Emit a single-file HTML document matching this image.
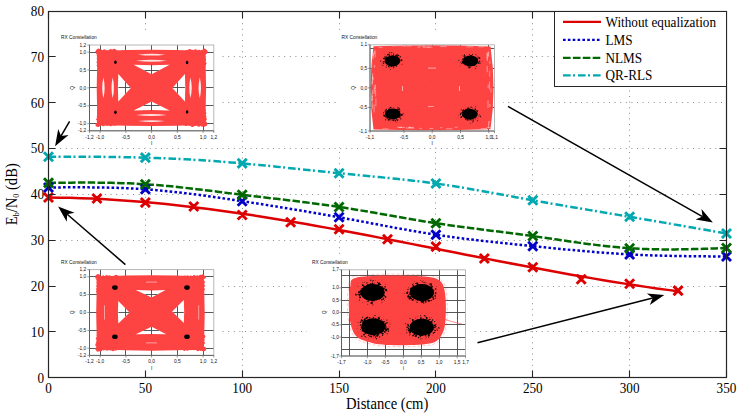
<!DOCTYPE html>
<html><head><meta charset="utf-8"><style>
html,body{margin:0;padding:0;background:#fff;}
body{width:742px;height:418px;overflow:hidden;}
svg{display:block;}
.tk{font-family:"Liberation Serif",serif;font-size:13.2px;fill:#000;}
.al{font-family:"Liberation Serif",serif;font-size:14.6px;fill:#000;}
.lg{font-family:"Liberation Serif",serif;font-size:13.2px;fill:#000;}
.sm{font-family:"Liberation Sans",sans-serif;font-size:4.8px;fill:#111;}
</style></head><body>
<svg width="742" height="418" viewBox="0 0 742 418">
<path d="M145.5,12V377M242.5,12V377M339.5,12V377M435.5,12V377M532.5,12V377M629.5,12V377M49,331.5H726M49,286.5H726M49,240.5H726M49,194.5H726M49,148.5H726M49,102.5H726M49,56.5H726" stroke="#8c8c8c" stroke-width="1" stroke-dasharray="1,4.6" fill="none"/>
<rect x="58" y="31.0" width="163" height="116.3" fill="#fff"/><path d="M100.5,45.0V130.8M125.5,45.0V130.8M151.5,45.0V130.8M177.5,45.0V130.8M203.5,45.0V130.8M89.5,123.5H213.8M89.5,105.5H213.8M89.5,87.5H213.8M89.5,70.5H213.8M89.5,52.5H213.8" stroke="#454545" stroke-width="0.9" fill="none"/><path d="M100.4,50.9 Q151.6,48.6 202.4,50.9 L205.4,53.4 Q206.8,87.9 205.4,122.4 L202.4,124.9 Q151.6,127.2 100.4,124.9 L97.4,122.4 Q96.0,87.9 97.4,53.4 Z" fill="#fe4343"/><rect x="97.4" y="50.4" width="20" height="16" fill="#fe4343"/><g fill="#fe4343"><circle cx="97.4" cy="51.3" r="1.80"/><circle cx="101.1" cy="51.3" r="1.76"/><circle cx="104.4" cy="51.1" r="1.76"/><circle cx="107.8" cy="51.6" r="1.38"/><circle cx="110.7" cy="51.0" r="2.03"/><circle cx="114.2" cy="51.0" r="2.18"/><circle cx="98.5" cy="50.4" r="1.85"/><circle cx="98.0" cy="53.2" r="1.78"/><circle cx="98.2" cy="55.8" r="1.52"/><circle cx="98.4" cy="58.5" r="1.70"/><circle cx="98.4" cy="62.1" r="1.88"/><circle cx="98.5" cy="65.3" r="1.71"/></g><rect x="185.4" y="50.4" width="20" height="16" fill="#fe4343"/><g fill="#fe4343"><circle cx="205.4" cy="51.8" r="2.20"/><circle cx="201.8" cy="51.5" r="1.58"/><circle cx="198.9" cy="51.2" r="1.36"/><circle cx="195.4" cy="51.3" r="2.06"/><circle cx="192.3" cy="51.7" r="2.06"/><circle cx="189.7" cy="51.1" r="2.12"/><circle cx="186.6" cy="51.7" r="1.66"/><circle cx="204.3" cy="50.4" r="2.00"/><circle cx="204.7" cy="53.3" r="1.60"/><circle cx="204.2" cy="57.0" r="1.41"/><circle cx="204.7" cy="59.9" r="1.35"/><circle cx="204.7" cy="63.5" r="1.80"/></g><rect x="97.4" y="109.4" width="20" height="16" fill="#fe4343"/><g fill="#fe4343"><circle cx="97.4" cy="124.7" r="1.96"/><circle cx="100.2" cy="124.3" r="1.40"/><circle cx="103.3" cy="124.7" r="1.54"/><circle cx="107.0" cy="124.2" r="1.57"/><circle cx="110.7" cy="124.7" r="1.65"/><circle cx="114.3" cy="124.3" r="1.39"/><circle cx="98.2" cy="125.4" r="1.53"/><circle cx="98.3" cy="121.9" r="1.57"/><circle cx="98.1" cy="119.2" r="1.82"/><circle cx="98.5" cy="116.3" r="1.63"/><circle cx="98.8" cy="113.2" r="1.74"/><circle cx="98.7" cy="109.9" r="1.46"/></g><rect x="185.4" y="109.4" width="20" height="16" fill="#fe4343"/><g fill="#fe4343"><circle cx="205.4" cy="124.1" r="2.04"/><circle cx="202.5" cy="124.7" r="1.97"/><circle cx="198.8" cy="124.7" r="2.16"/><circle cx="195.1" cy="124.4" r="1.68"/><circle cx="192.4" cy="124.8" r="2.17"/><circle cx="189.5" cy="124.3" r="1.53"/><circle cx="185.9" cy="124.4" r="1.56"/><circle cx="204.2" cy="125.4" r="1.36"/><circle cx="204.4" cy="122.6" r="2.07"/><circle cx="204.6" cy="119.2" r="2.13"/><circle cx="204.8" cy="116.4" r="1.54"/><circle cx="204.8" cy="113.2" r="1.46"/><circle cx="204.3" cy="110.2" r="1.42"/></g><path d="M133.6,64.8 Q151.6,65.6 169.6,64.8 L151.6,74.3 Z" fill="#fff"/><path d="M133.6,110.4 Q151.6,109.6 169.6,110.4 L151.6,101.5 Z" fill="#fff"/><path d="M118.3,74.0 Q117.5,87.9 118.3,101.5 L130.8,87.9 Z" fill="#fff"/><path d="M184.9,74.0 Q185.7,87.9 184.9,101.5 L172.4,87.9 Z" fill="#fff"/><path d="M138.0,54.7 Q151.5,52.9 165.0,54.7 Q151.5,56.5 138.0,54.7Z" fill="#fff" opacity="0.85"/><path d="M136.0,60.7 Q151.5,58.7 167.0,60.7 Q151.5,62.7 136.0,60.7Z" fill="#fff" opacity="0.85"/><path d="M138.0,121.1 Q151.5,119.3 165.0,121.1 Q151.5,122.9 138.0,121.1Z" fill="#fff" opacity="0.85"/><path d="M136.0,115.1 Q151.5,113.1 167.0,115.1 Q151.5,117.1 136.0,115.1Z" fill="#fff" opacity="0.85"/><path d="M103.4,77.5 Q101.0,87.9 103.4,98.3 Q105.8,87.9 103.4,77.5Z" fill="#fff" opacity="0.92"/><path d="M112.7,77.5 Q110.3,87.9 112.7,98.3 Q115.1,87.9 112.7,77.5Z" fill="#fff" opacity="0.92"/><path d="M190.5,77.5 Q188.1,87.9 190.5,98.3 Q192.9,87.9 190.5,77.5Z" fill="#fff" opacity="0.92"/><path d="M199.8,77.5 Q197.4,87.9 199.8,98.3 Q202.2,87.9 199.8,77.5Z" fill="#fff" opacity="0.92"/><clipPath id="c11"><path d="M133.6,64.8 L169.6,64.8 L151.6,74.3 Z"/><path d="M133.6,110.4 L169.6,110.4 L151.6,101.5 Z"/><path d="M118.3,74.0 L118.3,101.5 L130.8,87.9 Z"/><path d="M184.9,74.0 L184.9,101.5 L172.4,87.9 Z"/></clipPath><path d="M100.5,45.0V130.8M125.5,45.0V130.8M151.5,45.0V130.8M177.5,45.0V130.8M203.5,45.0V130.8M89.5,123.5H213.8M89.5,105.5H213.8M89.5,87.5H213.8M89.5,70.5H213.8M89.5,52.5H213.8" stroke="#454545" stroke-width="0.9" fill="none" clip-path="url(#c11)"/><g fill="#000"><ellipse cx="115.4" cy="62.2" rx="1.3" ry="1.7"/><ellipse cx="187.1" cy="62.5" rx="1.3" ry="1.7"/><ellipse cx="115.4" cy="112.2" rx="1.3" ry="1.7"/><ellipse cx="187.1" cy="111.9" rx="1.3" ry="1.7"/></g><rect x="89.5" y="45.0" width="124.3" height="85.8" fill="none" stroke="#b0b0b0" stroke-width="0.9"/><path d="M89.5,45.0V130.8H213.8" stroke="#555" stroke-width="0.9" fill="none"/><path d="M87.3,130.8H89.5M87.3,123.7H89.5M87.3,105.8H89.5M87.3,87.9H89.5M87.3,70.0H89.5M87.3,52.1H89.5M87.3,45.0H89.5M89.5,130.8V133.0M100.1,130.8V133.0M125.9,130.8V133.0M151.6,130.8V133.0M177.3,130.8V133.0M203.1,130.8V133.0M213.8,130.8V133.0" stroke="#707070" stroke-width="0.7" fill="none"/><text x="86.2" y="132.4" text-anchor="end" class="sm">-1,2</text><text x="86.2" y="125.2" text-anchor="end" class="sm">-1,0</text><text x="86.2" y="107.4" text-anchor="end" class="sm">-0,5</text><text x="86.2" y="89.5" text-anchor="end" class="sm">0,0</text><text x="86.2" y="71.6" text-anchor="end" class="sm">0,5</text><text x="86.2" y="53.8" text-anchor="end" class="sm">1,0</text><text x="86.2" y="46.6" text-anchor="end" class="sm">1,2</text><text x="89.5" y="138.6" text-anchor="middle" class="sm">-1,2</text><text x="100.1" y="138.6" text-anchor="middle" class="sm">-1,0</text><text x="125.9" y="138.6" text-anchor="middle" class="sm">-0,5</text><text x="151.6" y="138.6" text-anchor="middle" class="sm">0,0</text><text x="177.3" y="138.6" text-anchor="middle" class="sm">0,5</text><text x="203.1" y="138.6" text-anchor="middle" class="sm">1,0</text><text x="213.8" y="138.6" text-anchor="middle" class="sm">1,2</text><text class="sm" x="61.0" y="38.8">RX Constellation</text><text class="sm" transform="translate(74.4,87.9) rotate(-90)" text-anchor="middle">Q</text><text class="sm" x="151.6" y="145.1" text-anchor="middle">I</text><rect x="58" y="256.0" width="163" height="116.0" fill="#fff"/><path d="M100.5,269.6V355.4M125.5,269.6V355.4M151.5,269.6V355.4M177.5,269.6V355.4M203.5,269.6V355.4M89.5,348.5H213.8M89.5,330.5H213.8M89.5,312.5H213.8M89.5,294.5H213.8M89.5,276.5H213.8" stroke="#454545" stroke-width="0.9" fill="none"/><path d="M99.9,276.5 Q151.6,274.2 201.0,276.5 L204.0,279.0 Q205.4,312.5 204.0,347.0 L201.0,349.5 Q151.6,351.8 99.9,349.5 L96.9,347.0 Q95.5,312.5 96.9,279.0 Z" fill="#fe4343"/><rect x="96.9" y="276.0" width="20" height="16" fill="#fe4343"/><g fill="#fe4343"><circle cx="96.9" cy="276.8" r="1.92"/><circle cx="100.3" cy="277.3" r="1.47"/><circle cx="103.2" cy="276.8" r="1.50"/><circle cx="106.7" cy="276.7" r="1.78"/><circle cx="109.5" cy="276.9" r="1.69"/><circle cx="113.1" cy="277.1" r="1.31"/><circle cx="116.1" cy="276.8" r="2.08"/><circle cx="98.1" cy="276.0" r="2.04"/><circle cx="98.3" cy="279.5" r="2.01"/><circle cx="98.2" cy="282.4" r="1.74"/><circle cx="98.0" cy="285.9" r="1.69"/><circle cx="97.8" cy="289.0" r="1.58"/><circle cx="98.2" cy="291.7" r="2.02"/></g><rect x="184.0" y="276.0" width="20" height="16" fill="#fe4343"/><g fill="#fe4343"><circle cx="204.0" cy="277.2" r="1.80"/><circle cx="200.5" cy="276.7" r="1.91"/><circle cx="197.4" cy="276.8" r="1.48"/><circle cx="194.1" cy="276.8" r="1.71"/><circle cx="190.8" cy="277.0" r="1.42"/><circle cx="187.6" cy="276.8" r="1.51"/><circle cx="184.8" cy="276.9" r="1.37"/><circle cx="202.6" cy="276.0" r="1.65"/><circle cx="202.7" cy="279.5" r="1.34"/><circle cx="202.8" cy="282.3" r="2.05"/><circle cx="203.3" cy="285.6" r="1.67"/><circle cx="202.7" cy="289.3" r="2.02"/></g><rect x="96.9" y="334.0" width="20" height="16" fill="#fe4343"/><g fill="#fe4343"><circle cx="96.9" cy="348.8" r="1.64"/><circle cx="100.4" cy="349.3" r="2.17"/><circle cx="103.7" cy="348.9" r="1.49"/><circle cx="107.0" cy="349.0" r="1.83"/><circle cx="110.1" cy="348.9" r="1.61"/><circle cx="113.0" cy="349.3" r="1.92"/><circle cx="115.7" cy="349.3" r="1.36"/><circle cx="97.9" cy="350.0" r="1.79"/><circle cx="97.9" cy="347.4" r="1.61"/><circle cx="97.5" cy="344.7" r="2.20"/><circle cx="97.7" cy="341.9" r="1.54"/><circle cx="97.6" cy="338.6" r="1.72"/><circle cx="98.2" cy="335.6" r="1.31"/></g><rect x="184.0" y="334.0" width="20" height="16" fill="#fe4343"/><g fill="#fe4343"><circle cx="204.0" cy="349.0" r="2.17"/><circle cx="200.8" cy="349.1" r="1.90"/><circle cx="197.8" cy="349.4" r="1.75"/><circle cx="194.1" cy="348.8" r="1.53"/><circle cx="190.7" cy="348.8" r="1.53"/><circle cx="187.4" cy="349.2" r="1.52"/><circle cx="184.5" cy="349.3" r="1.62"/><circle cx="203.1" cy="350.0" r="1.38"/><circle cx="202.9" cy="346.5" r="1.30"/><circle cx="203.2" cy="343.0" r="1.73"/><circle cx="203.1" cy="339.7" r="1.56"/><circle cx="203.3" cy="336.6" r="2.08"/></g><path d="M135.7,290.0 Q151.6,290.8 165.5,290.0 L151.6,297.5 Z" fill="#fff"/><path d="M135.7,334.3 Q151.6,333.5 166.2,334.3 L151.6,326.8 Z" fill="#fff"/><path d="M118.3,301.1 Q117.5,312.5 118.3,323.6 L129.6,312.5 Z" fill="#fff"/><path d="M183.8,300.0 Q184.6,312.5 183.8,322.9 L172.2,311.4 Z" fill="#fff"/><path d="M104.5,305.4 V319.6" stroke="#fff" stroke-width="0.7" fill="none" opacity="0.7"/><path d="M198.7,305.4 V319.6" stroke="#fff" stroke-width="0.7" fill="none" opacity="0.7"/><path d="M146,282.1 H157" stroke="#fff" stroke-width="0.7" fill="none" opacity="0.7"/><path d="M146,342.9 H157" stroke="#fff" stroke-width="0.7" fill="none" opacity="0.7"/><clipPath id="c13"><path d="M135.7,290.0 L165.5,290.0 L151.6,297.5 Z"/><path d="M135.7,334.3 L166.2,334.3 L151.6,326.8 Z"/><path d="M118.3,301.1 L118.3,323.6 L129.6,312.5 Z"/><path d="M183.8,300.0 L183.8,322.9 L172.2,311.4 Z"/></clipPath><path d="M100.5,269.6V355.4M125.5,269.6V355.4M151.5,269.6V355.4M177.5,269.6V355.4M203.5,269.6V355.4M89.5,348.5H213.8M89.5,330.5H213.8M89.5,312.5H213.8M89.5,294.5H213.8M89.5,276.5H213.8" stroke="#454545" stroke-width="0.9" fill="none" clip-path="url(#c13)"/><g fill="#000"><ellipse cx="114.9" cy="287.5" rx="2.8" ry="2.3"/><ellipse cx="187.0" cy="287.5" rx="2.8" ry="2.3"/><ellipse cx="114.9" cy="336.8" rx="2.8" ry="2.3"/><ellipse cx="187.0" cy="336.8" rx="2.8" ry="2.3"/></g><rect x="89.5" y="269.6" width="124.3" height="85.8" fill="none" stroke="#b0b0b0" stroke-width="0.9"/><path d="M89.5,269.6V355.4H213.8" stroke="#555" stroke-width="0.9" fill="none"/><path d="M87.3,355.4H89.5M87.3,348.2H89.5M87.3,330.4H89.5M87.3,312.5H89.5M87.3,294.6H89.5M87.3,276.8H89.5M87.3,269.6H89.5M89.5,355.4V357.6M100.1,355.4V357.6M125.9,355.4V357.6M151.6,355.4V357.6M177.3,355.4V357.6M203.1,355.4V357.6M213.8,355.4V357.6" stroke="#707070" stroke-width="0.7" fill="none"/><text x="86.2" y="357.0" text-anchor="end" class="sm">-1,2</text><text x="86.2" y="349.9" text-anchor="end" class="sm">-1,0</text><text x="86.2" y="332.0" text-anchor="end" class="sm">-0,5</text><text x="86.2" y="314.1" text-anchor="end" class="sm">0,0</text><text x="86.2" y="296.2" text-anchor="end" class="sm">0,5</text><text x="86.2" y="278.4" text-anchor="end" class="sm">1,0</text><text x="86.2" y="271.2" text-anchor="end" class="sm">1,2</text><text x="89.5" y="363.2" text-anchor="middle" class="sm">-1,2</text><text x="100.1" y="363.2" text-anchor="middle" class="sm">-1,0</text><text x="125.9" y="363.2" text-anchor="middle" class="sm">-0,5</text><text x="151.6" y="363.2" text-anchor="middle" class="sm">0,0</text><text x="177.3" y="363.2" text-anchor="middle" class="sm">0,5</text><text x="203.1" y="363.2" text-anchor="middle" class="sm">1,0</text><text x="213.8" y="363.2" text-anchor="middle" class="sm">1,2</text><text class="sm" x="61.0" y="263.8">RX Constellation</text><text class="sm" transform="translate(74.4,312.5) rotate(-90)" text-anchor="middle">Q</text><text class="sm" x="151.6" y="369.8" text-anchor="middle">I</text><rect x="337" y="31" width="166" height="116" fill="#fff"/><path d="M403.5,44.8V131.0M432.5,44.8V131.0M460.5,44.8V131.0M488.5,44.8V131.0M370.0,107.5H494.5M370.0,87.5H494.5M370.0,68.5H494.5M370.0,48.5H494.5" stroke="#454545" stroke-width="0.9" fill="none"/><path d="M373.5,46.2 Q432,44.4 490.5,46.4 Q496.5,88 490.5,129.2 Q432,131.0 373.5,129.5 Q367.5,88 373.5,46.2 Z" fill="#fe4343"/><g fill="#fe4343"><circle cx="396.2" cy="64.0" r="1.73"/><circle cx="478.7" cy="75.8" r="1.87"/><circle cx="470.9" cy="92.9" r="1.90"/><circle cx="399.4" cy="57.4" r="0.97"/><circle cx="403.7" cy="91.8" r="1.45"/><circle cx="426.1" cy="85.9" r="1.08"/><circle cx="421.8" cy="125.6" r="1.70"/><circle cx="459.9" cy="118.1" r="1.00"/><circle cx="416.7" cy="78.4" r="0.84"/><circle cx="450.3" cy="74.8" r="1.08"/><circle cx="485.8" cy="83.9" r="1.16"/><circle cx="473.3" cy="81.0" r="1.60"/><circle cx="447.8" cy="125.2" r="1.61"/><circle cx="485.6" cy="80.1" r="1.17"/><circle cx="416.8" cy="100.5" r="1.00"/><circle cx="461.2" cy="96.7" r="1.52"/><circle cx="479.7" cy="88.7" r="1.22"/><circle cx="412.7" cy="121.7" r="1.38"/><circle cx="415.8" cy="113.4" r="1.63"/><circle cx="485.6" cy="101.8" r="0.87"/><circle cx="431.9" cy="51.2" r="0.86"/><circle cx="440.2" cy="64.5" r="1.49"/><circle cx="444.5" cy="88.5" r="1.04"/><circle cx="456.7" cy="83.1" r="1.69"/><circle cx="482.9" cy="71.4" r="1.23"/><circle cx="406.3" cy="110.9" r="1.71"/><circle cx="471.0" cy="109.7" r="1.73"/><circle cx="439.1" cy="82.1" r="1.90"/><circle cx="460.5" cy="100.7" r="1.52"/><circle cx="461.4" cy="76.5" r="1.88"/><circle cx="400.9" cy="81.7" r="1.19"/><circle cx="439.1" cy="98.0" r="1.01"/><circle cx="410.4" cy="50.9" r="1.02"/><circle cx="487.0" cy="99.9" r="1.44"/><circle cx="408.5" cy="98.9" r="1.51"/><circle cx="450.1" cy="64.0" r="1.31"/><circle cx="484.1" cy="101.1" r="0.88"/><circle cx="378.9" cy="89.5" r="0.99"/><circle cx="425.5" cy="49.3" r="1.55"/><circle cx="436.5" cy="75.3" r="1.33"/><circle cx="463.5" cy="117.6" r="1.17"/><circle cx="376.5" cy="99.6" r="1.79"/><circle cx="470.6" cy="84.0" r="1.39"/><circle cx="426.8" cy="60.5" r="1.17"/><circle cx="413.7" cy="96.7" r="1.26"/><circle cx="488.7" cy="85.1" r="1.54"/><circle cx="398.3" cy="88.1" r="0.94"/><circle cx="424.8" cy="123.0" r="1.81"/><circle cx="398.9" cy="115.1" r="1.71"/><circle cx="415.9" cy="57.4" r="1.69"/><circle cx="400.2" cy="113.4" r="1.15"/><circle cx="381.3" cy="91.2" r="1.61"/><circle cx="416.7" cy="125.4" r="1.57"/><circle cx="426.5" cy="85.9" r="1.45"/><circle cx="431.8" cy="120.8" r="1.36"/><circle cx="451.0" cy="58.6" r="1.73"/><circle cx="405.1" cy="114.2" r="1.67"/><circle cx="448.2" cy="67.1" r="1.78"/><circle cx="464.9" cy="63.8" r="1.93"/><circle cx="472.2" cy="80.2" r="1.43"/><circle cx="458.7" cy="119.6" r="1.89"/><circle cx="384.3" cy="92.7" r="1.65"/><circle cx="429.0" cy="71.5" r="1.71"/><circle cx="390.7" cy="72.1" r="1.31"/><circle cx="395.6" cy="63.3" r="1.55"/><circle cx="430.2" cy="81.5" r="1.02"/><circle cx="388.4" cy="99.7" r="1.09"/><circle cx="414.0" cy="58.8" r="0.89"/><circle cx="404.9" cy="91.4" r="0.90"/><circle cx="453.8" cy="104.8" r="1.04"/><circle cx="435.8" cy="95.1" r="1.36"/><circle cx="398.9" cy="109.4" r="1.50"/><circle cx="436.2" cy="125.9" r="0.84"/><circle cx="406.6" cy="99.8" r="1.30"/><circle cx="471.7" cy="112.1" r="1.26"/><circle cx="476.3" cy="95.0" r="0.95"/><circle cx="399.6" cy="81.5" r="1.49"/><circle cx="482.7" cy="78.6" r="1.31"/><circle cx="449.9" cy="58.4" r="1.25"/><circle cx="460.1" cy="112.1" r="1.47"/><circle cx="487.0" cy="77.5" r="1.52"/><circle cx="399.5" cy="118.4" r="0.84"/><circle cx="466.0" cy="106.9" r="1.53"/><circle cx="461.2" cy="112.5" r="1.84"/><circle cx="404.9" cy="106.5" r="1.09"/><circle cx="417.3" cy="126.1" r="1.27"/><circle cx="485.8" cy="78.8" r="1.51"/><circle cx="428.5" cy="127.5" r="1.40"/><circle cx="403.7" cy="99.4" r="1.94"/><circle cx="401.0" cy="89.1" r="1.37"/><circle cx="465.0" cy="109.9" r="1.34"/><circle cx="418.3" cy="122.1" r="1.77"/><circle cx="474.2" cy="90.4" r="1.15"/><circle cx="479.1" cy="74.0" r="1.12"/><circle cx="429.5" cy="103.6" r="1.95"/><circle cx="419.9" cy="118.0" r="1.37"/><circle cx="404.3" cy="63.5" r="1.67"/><circle cx="469.3" cy="111.6" r="1.18"/><circle cx="399.1" cy="83.2" r="1.17"/><circle cx="393.2" cy="82.9" r="1.24"/><circle cx="430.6" cy="57.3" r="0.88"/><circle cx="431.4" cy="115.0" r="1.87"/><circle cx="464.7" cy="68.9" r="0.86"/><circle cx="438.7" cy="62.3" r="1.48"/><circle cx="420.0" cy="57.3" r="1.38"/><circle cx="462.6" cy="74.9" r="1.28"/><circle cx="447.4" cy="73.8" r="1.17"/><circle cx="439.2" cy="79.0" r="1.78"/><circle cx="419.0" cy="63.3" r="1.16"/><circle cx="442.6" cy="50.5" r="1.00"/><circle cx="389.4" cy="92.0" r="1.40"/><circle cx="421.0" cy="101.7" r="1.50"/><circle cx="437.7" cy="78.3" r="1.10"/><circle cx="453.9" cy="55.8" r="1.58"/><circle cx="480.7" cy="93.4" r="1.94"/><circle cx="480.6" cy="87.6" r="0.89"/><circle cx="446.8" cy="72.3" r="1.56"/><circle cx="478.8" cy="78.0" r="0.99"/><circle cx="417.3" cy="125.0" r="1.01"/><circle cx="403.3" cy="71.5" r="1.02"/></g><path d="M374.3,51.3v2.8M373.2,53.5v2.4M374.1,104.4v8.1M372.1,80.8v4.2M374.2,85.2v8.6M373.2,52.2v6.9M372.2,96.0v5.5M375.6,90.2v6.3M372.7,89.9v3.8M374.9,87.3v2.9M372.6,76.2v7.2M372.3,102.2v6.6M371.9,98.8v2.6M372.1,93.1v3.7M375.4,84.5v4.3M375.1,50.2v7.1M371.7,59.5v8.7M374.6,65.0v2.8M375.9,98.5v7.7M372.1,95.5v4.5M372.6,73.3v6.3M373.1,77.3v3.0M466.4,46.8h6.8M422.7,47.1h5.1M440.2,46.6h6.4M418.5,45.8h2.2M397.3,45.7h7.3M427.9,47.0h2.0M426.7,47.2h5.7M422.2,46.4h2.6M392.0,45.9h4.2M417.4,47.2h2.9M402.9,46.1h3.0M406.6,46.0h4.9M378.5,47.3h4.2M478.2,46.8h6.0M488.9,121.7v2.7M489.7,70.7v6.0M489.9,60.7v3.2M487.1,66.0v2.5M488.6,123.9v4.2M488.2,84.5v3.7M489.9,104.0v3.0M488.0,100.4v7.6M489.6,81.6v7.9M487.0,52.7v6.7M488.6,51.5v5.3M491.0,88.5v4.1M487.4,53.6v7.4M489.0,121.0v2.3M488.0,51.9v4.4M487.2,67.9v4.4M408.1,127.3h2.2M486.7,127.6h4.5M419.5,128.4h2.4M409.0,127.4h4.7M480.7,128.5h6.3M397.3,127.2h4.7M429.4,128.5h3.9M445.8,128.8h6.6M408.3,128.2h6.1M398.4,127.5h3.6M382.3,128.9h6.1M408.9,127.5h2.4M400.9,127.4h4.1M440.1,127.7h2.3M454.7,127.3h3.0M405.8,128.0h2.5" stroke="#fbd0d0" stroke-width="0.7" opacity="0.8" fill="none"/><rect x="428" y="67.6" width="8" height="1.0" fill="#fff" opacity="0.55"/><rect x="428" y="106" width="6" height="0.9" fill="#fff" opacity="0.55"/><rect x="402" y="86" width="1.0" height="5" fill="#fff" opacity="0.55"/><rect x="459" y="86" width="1.0" height="5" fill="#fff" opacity="0.55"/><ellipse cx="392.5" cy="60.9" rx="7.8" ry="5.4" fill="#000"/><g fill="#000"><circle cx="387.6" cy="62.8" r="0.72"/><circle cx="383.6" cy="58.5" r="0.67"/><circle cx="393.0" cy="55.5" r="0.57"/><circle cx="395.8" cy="55.6" r="0.82"/><circle cx="391.3" cy="54.9" r="0.49"/><circle cx="394.9" cy="56.8" r="0.42"/><circle cx="396.3" cy="62.1" r="0.49"/><circle cx="390.1" cy="57.5" r="0.39"/><circle cx="393.1" cy="55.5" r="0.37"/><circle cx="395.9" cy="61.7" r="0.53"/><circle cx="398.7" cy="55.5" r="0.65"/><circle cx="393.3" cy="65.6" r="0.53"/><circle cx="392.0" cy="61.6" r="0.64"/><circle cx="396.5" cy="55.5" r="0.41"/><circle cx="388.4" cy="60.3" r="0.70"/><circle cx="383.4" cy="63.2" r="0.74"/><circle cx="396.6" cy="63.6" r="0.80"/><circle cx="386.1" cy="62.1" r="0.57"/><circle cx="393.6" cy="54.0" r="0.62"/><circle cx="400.1" cy="59.8" r="0.41"/><circle cx="395.0" cy="56.6" r="0.39"/><circle cx="394.3" cy="60.7" r="0.64"/><circle cx="383.2" cy="61.7" r="0.55"/><circle cx="393.6" cy="64.6" r="0.46"/><circle cx="387.0" cy="59.3" r="0.72"/><circle cx="392.8" cy="65.2" r="0.48"/><circle cx="401.6" cy="60.2" r="0.77"/><circle cx="387.8" cy="57.8" r="0.43"/><circle cx="395.9" cy="56.5" r="0.38"/><circle cx="394.0" cy="62.9" r="0.70"/><circle cx="396.1" cy="59.0" r="0.74"/><circle cx="388.8" cy="66.2" r="0.77"/><circle cx="386.1" cy="56.4" r="0.54"/><circle cx="399.6" cy="61.2" r="0.64"/><circle cx="395.0" cy="65.0" r="0.51"/><circle cx="398.0" cy="61.6" r="0.54"/><circle cx="384.2" cy="61.8" r="0.55"/><circle cx="401.5" cy="60.2" r="0.80"/><circle cx="389.6" cy="55.4" r="0.62"/><circle cx="394.3" cy="56.8" r="0.64"/><circle cx="389.4" cy="56.2" r="0.50"/><circle cx="395.1" cy="61.9" r="0.53"/><circle cx="384.9" cy="57.9" r="0.70"/><circle cx="389.1" cy="67.4" r="0.49"/><circle cx="391.9" cy="59.0" r="0.72"/><circle cx="387.8" cy="54.7" r="0.79"/><circle cx="389.0" cy="54.8" r="0.71"/><circle cx="389.0" cy="58.8" r="0.61"/><circle cx="396.4" cy="58.8" r="0.83"/><circle cx="386.5" cy="59.7" r="0.36"/><circle cx="389.2" cy="62.8" r="0.67"/><circle cx="400.2" cy="56.8" r="0.65"/><circle cx="390.0" cy="62.5" r="0.69"/><circle cx="384.5" cy="58.9" r="0.54"/><circle cx="396.0" cy="58.7" r="0.51"/><circle cx="391.6" cy="66.5" r="0.79"/><circle cx="396.4" cy="65.9" r="0.73"/><circle cx="392.9" cy="62.7" r="0.63"/><circle cx="397.0" cy="55.0" r="0.71"/><circle cx="386.8" cy="63.2" r="0.61"/><circle cx="397.0" cy="58.7" r="0.49"/><circle cx="384.7" cy="56.5" r="0.45"/><circle cx="395.8" cy="61.4" r="0.63"/><circle cx="389.1" cy="59.0" r="0.45"/><circle cx="385.8" cy="57.7" r="0.69"/><circle cx="392.2" cy="59.1" r="0.59"/><circle cx="397.5" cy="54.8" r="0.51"/><circle cx="397.2" cy="56.2" r="0.80"/><circle cx="393.6" cy="66.9" r="0.76"/><circle cx="389.4" cy="61.2" r="0.45"/></g><g fill="#000"><circle cx="394.5" cy="63.2" r="0.29"/><circle cx="389.6" cy="59.0" r="0.48"/><circle cx="391.6" cy="52.8" r="0.50"/><circle cx="389.8" cy="52.5" r="0.55"/><circle cx="384.2" cy="54.6" r="0.27"/><circle cx="394.9" cy="62.3" r="0.31"/><circle cx="386.8" cy="65.2" r="0.46"/><circle cx="392.3" cy="58.3" r="0.37"/><circle cx="385.4" cy="59.4" r="0.28"/><circle cx="386.5" cy="57.7" r="0.46"/><circle cx="380.7" cy="61.1" r="0.54"/><circle cx="401.9" cy="64.3" r="0.47"/><circle cx="391.3" cy="63.8" r="0.39"/><circle cx="386.2" cy="67.0" r="0.53"/><circle cx="387.7" cy="64.2" r="0.40"/><circle cx="389.0" cy="53.3" r="0.42"/><circle cx="390.5" cy="65.9" r="0.51"/><circle cx="389.8" cy="60.7" r="0.37"/><circle cx="393.2" cy="68.2" r="0.26"/><circle cx="392.0" cy="63.7" r="0.39"/><circle cx="401.3" cy="60.3" r="0.36"/><circle cx="395.8" cy="59.8" r="0.35"/><circle cx="392.8" cy="60.3" r="0.49"/><circle cx="391.5" cy="61.8" r="0.32"/><circle cx="385.3" cy="62.3" r="0.41"/><circle cx="397.8" cy="62.3" r="0.55"/><circle cx="384.8" cy="63.1" r="0.27"/><circle cx="390.4" cy="69.5" r="0.46"/><circle cx="389.7" cy="60.8" r="0.37"/><circle cx="393.9" cy="55.1" r="0.43"/><circle cx="400.4" cy="56.7" r="0.44"/><circle cx="394.3" cy="61.2" r="0.49"/><circle cx="382.9" cy="65.3" r="0.50"/><circle cx="398.9" cy="58.1" r="0.56"/><circle cx="392.9" cy="52.4" r="0.29"/></g><ellipse cx="470.5" cy="60.9" rx="7.8" ry="5.4" fill="#000"/><g fill="#000"><circle cx="471.8" cy="56.3" r="0.83"/><circle cx="475.2" cy="60.8" r="0.56"/><circle cx="469.6" cy="65.8" r="0.50"/><circle cx="468.7" cy="58.7" r="0.44"/><circle cx="467.9" cy="61.4" r="0.54"/><circle cx="478.0" cy="56.8" r="0.45"/><circle cx="479.5" cy="61.7" r="0.82"/><circle cx="467.5" cy="59.4" r="0.47"/><circle cx="479.0" cy="57.5" r="0.37"/><circle cx="473.1" cy="65.2" r="0.49"/><circle cx="470.6" cy="56.5" r="0.73"/><circle cx="474.7" cy="65.1" r="0.83"/><circle cx="469.6" cy="58.8" r="0.41"/><circle cx="466.7" cy="57.4" r="0.54"/><circle cx="462.9" cy="61.7" r="0.82"/><circle cx="470.9" cy="66.3" r="0.49"/><circle cx="462.3" cy="59.2" r="0.42"/><circle cx="462.2" cy="61.6" r="0.36"/><circle cx="471.4" cy="56.3" r="0.60"/><circle cx="463.7" cy="56.8" r="0.39"/><circle cx="468.5" cy="60.9" r="0.55"/><circle cx="469.7" cy="61.8" r="0.50"/><circle cx="462.8" cy="62.7" r="0.80"/><circle cx="465.5" cy="64.7" r="0.70"/><circle cx="479.5" cy="58.2" r="0.83"/><circle cx="469.2" cy="63.7" r="0.81"/><circle cx="476.4" cy="63.2" r="0.71"/><circle cx="464.4" cy="60.1" r="0.80"/><circle cx="468.2" cy="66.0" r="0.76"/><circle cx="474.3" cy="64.2" r="0.60"/><circle cx="466.3" cy="59.6" r="0.58"/><circle cx="473.3" cy="61.7" r="0.52"/><circle cx="476.6" cy="66.5" r="0.49"/><circle cx="469.1" cy="67.2" r="0.72"/><circle cx="469.8" cy="67.4" r="0.66"/><circle cx="464.4" cy="64.6" r="0.48"/><circle cx="469.7" cy="67.6" r="0.57"/><circle cx="473.9" cy="59.1" r="0.43"/><circle cx="478.6" cy="62.9" r="0.63"/><circle cx="472.6" cy="61.0" r="0.76"/><circle cx="461.2" cy="61.1" r="0.38"/><circle cx="467.6" cy="59.6" r="0.71"/><circle cx="464.5" cy="57.3" r="0.47"/><circle cx="473.7" cy="60.1" r="0.39"/><circle cx="469.3" cy="58.9" r="0.39"/><circle cx="462.7" cy="62.3" r="0.79"/><circle cx="470.0" cy="59.0" r="0.67"/><circle cx="472.4" cy="58.8" r="0.72"/><circle cx="470.2" cy="64.8" r="0.36"/><circle cx="470.9" cy="55.7" r="0.79"/><circle cx="466.6" cy="61.5" r="0.46"/><circle cx="469.7" cy="67.9" r="0.46"/><circle cx="475.6" cy="63.2" r="0.40"/><circle cx="463.5" cy="63.5" r="0.67"/><circle cx="472.2" cy="63.3" r="0.60"/><circle cx="467.9" cy="56.5" r="0.64"/><circle cx="473.7" cy="59.5" r="0.49"/><circle cx="463.2" cy="61.1" r="0.79"/><circle cx="462.8" cy="58.9" r="0.56"/><circle cx="472.5" cy="54.5" r="0.50"/><circle cx="474.5" cy="63.2" r="0.53"/><circle cx="474.5" cy="58.5" r="0.66"/><circle cx="464.3" cy="55.5" r="0.42"/><circle cx="471.2" cy="56.8" r="0.41"/><circle cx="464.3" cy="56.0" r="0.64"/><circle cx="479.9" cy="63.1" r="0.54"/><circle cx="464.9" cy="56.3" r="0.49"/><circle cx="465.7" cy="63.1" r="0.41"/><circle cx="478.3" cy="63.3" r="0.56"/><circle cx="472.2" cy="59.6" r="0.50"/></g><g fill="#000"><circle cx="475.5" cy="68.8" r="0.49"/><circle cx="477.3" cy="57.0" r="0.27"/><circle cx="465.6" cy="63.1" r="0.25"/><circle cx="464.6" cy="59.0" r="0.27"/><circle cx="458.9" cy="60.3" r="0.54"/><circle cx="466.7" cy="61.5" r="0.49"/><circle cx="477.1" cy="65.3" r="0.27"/><circle cx="479.3" cy="60.4" r="0.38"/><circle cx="469.3" cy="67.5" r="0.55"/><circle cx="465.6" cy="62.7" r="0.40"/><circle cx="477.0" cy="58.2" r="0.44"/><circle cx="476.5" cy="58.4" r="0.50"/><circle cx="466.1" cy="60.3" r="0.26"/><circle cx="478.1" cy="58.6" r="0.38"/><circle cx="478.4" cy="57.5" r="0.40"/><circle cx="468.3" cy="68.5" r="0.32"/><circle cx="460.2" cy="62.3" r="0.43"/><circle cx="474.1" cy="63.9" r="0.46"/><circle cx="470.0" cy="58.0" r="0.56"/><circle cx="473.8" cy="63.6" r="0.27"/><circle cx="461.6" cy="63.2" r="0.51"/><circle cx="475.7" cy="67.3" r="0.27"/><circle cx="465.2" cy="58.7" r="0.35"/><circle cx="480.1" cy="63.4" r="0.28"/><circle cx="471.1" cy="55.7" r="0.43"/><circle cx="465.1" cy="56.1" r="0.52"/><circle cx="476.1" cy="58.6" r="0.35"/><circle cx="473.6" cy="58.6" r="0.37"/><circle cx="460.3" cy="65.4" r="0.28"/><circle cx="464.6" cy="54.4" r="0.47"/><circle cx="482.2" cy="61.0" r="0.34"/><circle cx="476.4" cy="55.1" r="0.37"/><circle cx="475.7" cy="54.6" r="0.35"/><circle cx="469.5" cy="54.5" r="0.47"/><circle cx="462.4" cy="55.6" r="0.29"/></g><ellipse cx="392.7" cy="114.0" rx="7.8" ry="5.4" fill="#000"/><g fill="#000"><circle cx="392.4" cy="114.0" r="0.74"/><circle cx="393.9" cy="107.5" r="0.38"/><circle cx="386.0" cy="112.9" r="0.42"/><circle cx="395.6" cy="120.8" r="0.77"/><circle cx="393.4" cy="120.5" r="0.67"/><circle cx="386.7" cy="117.8" r="0.47"/><circle cx="392.6" cy="114.7" r="0.68"/><circle cx="385.2" cy="111.0" r="0.60"/><circle cx="387.6" cy="115.6" r="0.71"/><circle cx="387.3" cy="118.0" r="0.72"/><circle cx="384.9" cy="116.0" r="0.39"/><circle cx="392.1" cy="120.6" r="0.43"/><circle cx="393.8" cy="114.3" r="0.73"/><circle cx="398.0" cy="117.0" r="0.57"/><circle cx="395.0" cy="109.3" r="0.61"/><circle cx="401.5" cy="115.0" r="0.73"/><circle cx="386.2" cy="109.4" r="0.65"/><circle cx="390.7" cy="107.5" r="0.66"/><circle cx="402.0" cy="114.9" r="0.83"/><circle cx="393.5" cy="115.8" r="0.52"/><circle cx="397.6" cy="116.6" r="0.40"/><circle cx="392.8" cy="114.4" r="0.57"/><circle cx="390.1" cy="119.8" r="0.55"/><circle cx="397.6" cy="120.1" r="0.79"/><circle cx="391.0" cy="110.9" r="0.55"/><circle cx="386.6" cy="115.4" r="0.37"/><circle cx="384.3" cy="115.7" r="0.69"/><circle cx="398.0" cy="109.4" r="0.73"/><circle cx="399.3" cy="109.0" r="0.74"/><circle cx="385.7" cy="116.9" r="0.68"/><circle cx="399.0" cy="109.9" r="0.57"/><circle cx="394.8" cy="117.8" r="0.48"/><circle cx="389.1" cy="108.3" r="0.45"/><circle cx="383.7" cy="112.6" r="0.54"/><circle cx="399.1" cy="117.1" r="0.53"/><circle cx="396.0" cy="117.0" r="0.36"/><circle cx="396.6" cy="117.8" r="0.41"/><circle cx="400.1" cy="114.2" r="0.82"/><circle cx="395.6" cy="110.4" r="0.80"/><circle cx="396.1" cy="115.3" r="0.36"/><circle cx="399.9" cy="116.0" r="0.72"/><circle cx="383.8" cy="114.9" r="0.58"/><circle cx="399.5" cy="111.3" r="0.62"/><circle cx="395.8" cy="118.1" r="0.57"/><circle cx="394.8" cy="110.9" r="0.50"/><circle cx="393.8" cy="112.2" r="0.62"/><circle cx="394.2" cy="119.8" r="0.65"/><circle cx="399.8" cy="117.4" r="0.56"/><circle cx="388.7" cy="120.0" r="0.73"/><circle cx="389.7" cy="119.5" r="0.42"/><circle cx="389.8" cy="113.8" r="0.67"/><circle cx="399.6" cy="111.1" r="0.38"/><circle cx="385.9" cy="113.6" r="0.57"/><circle cx="395.8" cy="117.1" r="0.58"/><circle cx="400.1" cy="116.6" r="0.48"/><circle cx="391.9" cy="116.1" r="0.51"/><circle cx="397.6" cy="112.4" r="0.41"/><circle cx="387.2" cy="119.8" r="0.40"/><circle cx="390.2" cy="116.8" r="0.69"/><circle cx="389.7" cy="114.5" r="0.77"/><circle cx="388.8" cy="119.3" r="0.58"/><circle cx="394.4" cy="112.7" r="0.47"/><circle cx="391.6" cy="117.6" r="0.75"/><circle cx="386.8" cy="113.9" r="0.60"/><circle cx="397.0" cy="109.5" r="0.58"/><circle cx="388.4" cy="109.3" r="0.55"/><circle cx="389.5" cy="115.2" r="0.57"/><circle cx="396.7" cy="111.3" r="0.54"/><circle cx="386.6" cy="110.7" r="0.44"/><circle cx="384.6" cy="116.1" r="0.38"/></g><g fill="#000"><circle cx="400.8" cy="118.9" r="0.53"/><circle cx="395.8" cy="115.1" r="0.44"/><circle cx="390.6" cy="121.1" r="0.25"/><circle cx="388.1" cy="115.0" r="0.35"/><circle cx="389.7" cy="108.0" r="0.51"/><circle cx="397.8" cy="108.1" r="0.51"/><circle cx="396.3" cy="119.6" r="0.34"/><circle cx="389.9" cy="111.9" r="0.52"/><circle cx="385.4" cy="119.8" r="0.54"/><circle cx="399.7" cy="111.9" r="0.51"/><circle cx="397.0" cy="113.9" r="0.48"/><circle cx="391.5" cy="108.0" r="0.33"/><circle cx="396.3" cy="119.1" r="0.54"/><circle cx="387.7" cy="116.6" r="0.44"/><circle cx="384.0" cy="116.7" r="0.39"/><circle cx="392.2" cy="115.7" r="0.50"/><circle cx="389.5" cy="110.3" r="0.40"/><circle cx="385.3" cy="110.9" r="0.53"/><circle cx="393.9" cy="109.1" r="0.35"/><circle cx="389.0" cy="111.7" r="0.54"/><circle cx="400.8" cy="115.8" r="0.33"/><circle cx="390.2" cy="113.7" r="0.31"/><circle cx="403.3" cy="113.5" r="0.31"/><circle cx="390.6" cy="114.4" r="0.28"/><circle cx="397.0" cy="122.3" r="0.34"/><circle cx="392.7" cy="116.3" r="0.28"/><circle cx="403.0" cy="113.8" r="0.53"/><circle cx="398.1" cy="107.2" r="0.32"/><circle cx="395.7" cy="118.1" r="0.26"/><circle cx="397.3" cy="120.8" r="0.40"/><circle cx="399.3" cy="114.3" r="0.51"/><circle cx="398.8" cy="107.8" r="0.47"/><circle cx="400.3" cy="110.5" r="0.36"/><circle cx="387.0" cy="111.9" r="0.25"/><circle cx="392.2" cy="120.1" r="0.28"/></g><ellipse cx="469.8" cy="114.2" rx="7.8" ry="5.4" fill="#000"/><g fill="#000"><circle cx="474.1" cy="115.9" r="0.54"/><circle cx="476.5" cy="112.9" r="0.76"/><circle cx="469.5" cy="108.7" r="0.51"/><circle cx="465.4" cy="116.7" r="0.66"/><circle cx="475.3" cy="109.1" r="0.50"/><circle cx="470.4" cy="114.7" r="0.64"/><circle cx="469.9" cy="114.7" r="0.50"/><circle cx="470.4" cy="117.4" r="0.68"/><circle cx="465.2" cy="112.3" r="0.71"/><circle cx="472.4" cy="120.9" r="0.42"/><circle cx="462.8" cy="110.9" r="0.71"/><circle cx="460.5" cy="114.7" r="0.66"/><circle cx="468.8" cy="112.3" r="0.45"/><circle cx="462.6" cy="115.3" r="0.41"/><circle cx="469.5" cy="110.0" r="0.59"/><circle cx="460.7" cy="113.3" r="0.51"/><circle cx="462.6" cy="112.1" r="0.67"/><circle cx="467.8" cy="117.7" r="0.59"/><circle cx="463.3" cy="110.8" r="0.42"/><circle cx="462.7" cy="116.0" r="0.45"/><circle cx="477.5" cy="118.4" r="0.37"/><circle cx="464.4" cy="114.2" r="0.37"/><circle cx="469.3" cy="117.1" r="0.55"/><circle cx="472.2" cy="113.1" r="0.53"/><circle cx="467.1" cy="108.8" r="0.37"/><circle cx="470.5" cy="118.0" r="0.79"/><circle cx="465.1" cy="115.5" r="0.59"/><circle cx="466.0" cy="114.5" r="0.68"/><circle cx="468.5" cy="109.3" r="0.62"/><circle cx="471.1" cy="107.2" r="0.65"/><circle cx="476.6" cy="115.6" r="0.68"/><circle cx="465.8" cy="119.4" r="0.54"/><circle cx="464.0" cy="110.4" r="0.68"/><circle cx="477.3" cy="111.5" r="0.70"/><circle cx="468.4" cy="110.9" r="0.65"/><circle cx="468.0" cy="113.0" r="0.72"/><circle cx="470.8" cy="119.2" r="0.61"/><circle cx="468.3" cy="108.0" r="0.58"/><circle cx="476.0" cy="112.4" r="0.63"/><circle cx="475.5" cy="114.0" r="0.70"/><circle cx="472.6" cy="113.6" r="0.73"/><circle cx="465.6" cy="109.9" r="0.74"/><circle cx="472.2" cy="112.1" r="0.59"/><circle cx="463.5" cy="110.2" r="0.82"/><circle cx="472.8" cy="108.0" r="0.39"/><circle cx="461.2" cy="117.3" r="0.81"/><circle cx="470.0" cy="110.0" r="0.73"/><circle cx="461.8" cy="113.0" r="0.67"/><circle cx="475.4" cy="109.6" r="0.83"/><circle cx="462.8" cy="114.4" r="0.68"/><circle cx="467.7" cy="113.6" r="0.82"/><circle cx="466.8" cy="118.8" r="0.38"/><circle cx="473.3" cy="120.7" r="0.49"/><circle cx="467.1" cy="120.4" r="0.48"/><circle cx="466.1" cy="109.5" r="0.79"/><circle cx="464.1" cy="114.8" r="0.48"/><circle cx="469.7" cy="114.3" r="0.42"/><circle cx="473.1" cy="117.4" r="0.73"/><circle cx="475.4" cy="112.7" r="0.48"/><circle cx="467.7" cy="119.7" r="0.59"/><circle cx="475.2" cy="117.7" r="0.49"/><circle cx="475.3" cy="119.2" r="0.41"/><circle cx="461.7" cy="116.5" r="0.62"/><circle cx="473.7" cy="111.3" r="0.81"/><circle cx="478.9" cy="116.0" r="0.56"/><circle cx="474.9" cy="114.3" r="0.83"/><circle cx="468.0" cy="108.2" r="0.75"/><circle cx="475.3" cy="114.4" r="0.58"/><circle cx="477.8" cy="110.5" r="0.43"/><circle cx="477.2" cy="113.8" r="0.51"/></g><g fill="#000"><circle cx="476.6" cy="117.1" r="0.41"/><circle cx="463.4" cy="115.6" r="0.54"/><circle cx="463.2" cy="115.0" r="0.49"/><circle cx="470.1" cy="120.0" r="0.27"/><circle cx="470.7" cy="123.2" r="0.44"/><circle cx="460.1" cy="113.1" r="0.46"/><circle cx="462.6" cy="113.5" r="0.29"/><circle cx="473.9" cy="114.8" r="0.37"/><circle cx="479.6" cy="114.7" r="0.35"/><circle cx="470.5" cy="119.2" r="0.40"/><circle cx="472.6" cy="122.2" r="0.39"/><circle cx="473.0" cy="115.3" r="0.52"/><circle cx="464.1" cy="111.9" r="0.47"/><circle cx="480.6" cy="116.6" r="0.54"/><circle cx="468.4" cy="112.5" r="0.38"/><circle cx="474.6" cy="108.3" r="0.31"/><circle cx="470.1" cy="116.5" r="0.41"/><circle cx="473.1" cy="119.7" r="0.53"/><circle cx="476.6" cy="110.5" r="0.49"/><circle cx="477.6" cy="120.7" r="0.52"/><circle cx="458.6" cy="115.1" r="0.34"/><circle cx="476.6" cy="113.6" r="0.54"/><circle cx="475.8" cy="106.8" r="0.47"/><circle cx="475.5" cy="116.3" r="0.45"/><circle cx="478.1" cy="110.2" r="0.25"/><circle cx="465.7" cy="118.5" r="0.29"/><circle cx="471.1" cy="120.6" r="0.36"/><circle cx="469.0" cy="119.9" r="0.54"/><circle cx="461.3" cy="109.7" r="0.54"/><circle cx="480.8" cy="115.8" r="0.27"/><circle cx="473.2" cy="121.5" r="0.48"/><circle cx="463.6" cy="110.1" r="0.47"/><circle cx="465.0" cy="115.9" r="0.31"/><circle cx="471.5" cy="115.3" r="0.54"/><circle cx="476.5" cy="112.6" r="0.37"/></g><rect x="370.0" y="44.8" width="124.5" height="86.2" fill="none" stroke="#b0b0b0" stroke-width="0.9"/><path d="M370.0,44.8V131.0H494.5" stroke="#555" stroke-width="0.9" fill="none"/><path d="M367.8,131.0H370.0M367.8,107.5H370.0M367.8,87.9H370.0M367.8,68.3H370.0M367.8,44.8H370.0M370.0,131.0V133.2M404.0,131.0V133.2M432.2,131.0V133.2M460.5,131.0V133.2M488.8,131.0V133.2M494.5,131.0V133.2" stroke="#707070" stroke-width="0.7" fill="none"/><text x="367.2" y="132.6" text-anchor="end" class="sm">-1,1</text><text x="367.2" y="109.1" text-anchor="end" class="sm">-0,5</text><text x="367.2" y="89.5" text-anchor="end" class="sm">0,0</text><text x="367.2" y="69.9" text-anchor="end" class="sm">0,5</text><text x="367.2" y="46.4" text-anchor="end" class="sm">1,1</text><text x="370.0" y="138.6" text-anchor="middle" class="sm">-1,1</text><text x="404.0" y="138.6" text-anchor="middle" class="sm">-0,5</text><text x="432.2" y="138.6" text-anchor="middle" class="sm">0,0</text><text x="460.5" y="138.6" text-anchor="middle" class="sm">0,5</text><text x="488.8" y="138.6" text-anchor="middle" class="sm">1,0</text><text x="494.5" y="138.6" text-anchor="middle" class="sm">1,1</text><text class="sm" x="341.5" y="38.8">RX Constellation</text><text class="sm" transform="translate(355.1,87.9) rotate(-90)" text-anchor="middle">Q</text><text class="sm" x="432.2" y="145.0" text-anchor="middle">I</text><rect x="307" y="256" width="165" height="116" fill="#fff"/><path d="M349.5,269.8V356.0M367.5,269.8V356.0M385.5,269.8V356.0M403.5,269.8V356.0M421.5,269.8V356.0M439.5,269.8V356.0M457.5,269.8V356.0M341.5,349.5H465.5M341.5,337.5H465.5M341.5,324.5H465.5M341.5,312.5H465.5M341.5,300.5H465.5M341.5,287.5H465.5M341.5,275.5H465.5" stroke="#454545" stroke-width="0.9" fill="none"/><path d="M353.1,278.7 L355.2,277.9 L357.8,277.3 L360.8,276.8 L364.2,276.5 L367.9,276.2 L371.8,276.0 L376.0,275.8 L380.6,275.6 L385.5,275.5 L390.6,275.5 L395.6,275.5 L400.5,275.6 L405.5,275.7 L410.7,275.8 L415.9,276.0 L420.9,276.2 L425.4,276.6 L429.2,277.0 L432.2,277.5 L434.6,278.0 L436.5,278.7 L438.0,279.4 L439.4,280.4 L440.7,281.6 L441.9,283.0 L442.8,284.6 L443.5,286.3 L444.1,288.3 L444.6,290.5 L445.0,293.0 L445.4,295.9 L445.6,299.2 L445.8,302.7 L445.9,306.4 L445.9,309.9 L445.8,313.2 L445.7,316.3 L445.5,319.4 L445.3,322.3 L444.9,325.2 L444.4,327.9 L443.6,330.4 L442.7,332.7 L441.6,335.0 L440.4,337.0 L439.0,338.9 L437.2,340.5 L435.0,341.9 L432.4,342.9 L429.4,343.6 L426.2,344.1 L422.6,344.4 L418.8,344.7 L414.8,344.9 L410.4,345.1 L405.4,345.2 L400.3,345.3 L395.1,345.2 L390.3,345.1 L386.1,344.9 L382.5,344.6 L379.4,344.3 L376.5,343.9 L373.9,343.4 L371.4,342.8 L368.9,342.1 L366.4,341.4 L364.0,340.6 L361.7,339.8 L359.6,338.8 L357.7,337.6 L356.0,336.1 L354.6,334.3 L353.4,332.2 L352.4,329.8 L351.5,327.3 L350.8,324.6 L350.2,321.8 L349.7,318.7 L349.3,315.3 L349.0,311.8 L348.9,308.2 L348.8,304.8 L348.8,301.7 L348.9,298.9 L349.0,296.3 L349.2,293.8 L349.5,291.5 L349.8,289.3 L350.2,287.3 L350.4,285.5 L350.5,283.8 L350.6,282.3 L350.9,280.9 L351.7,279.7Z" fill="#fe4343"/><path d="M351.8,277.4 L353.9,276.6 L356.6,276.0 L359.7,275.5 L363.2,275.2 L367.0,274.9 L371.0,274.6 L375.3,274.4 L380.1,274.3 L385.2,274.2 L390.3,274.1 L395.5,274.2 L400.6,274.2 L405.7,274.3 L411.1,274.4 L416.5,274.6 L421.6,274.9 L426.2,275.2 L430.1,275.7 L433.2,276.2 L435.7,276.8 L437.6,277.4 L439.2,278.2 L440.6,279.2 L442.0,280.5 L443.2,281.9 L444.1,283.6 L444.9,285.4 L445.5,287.4 L446.0,289.7 L446.4,292.3 L446.8,295.3 L447.1,298.8 L447.2,302.4 L447.3,306.2 L447.3,309.9 L447.2,313.3 L447.1,316.6 L447.0,319.7 L446.7,322.8 L446.3,325.8 L445.8,328.6 L445.0,331.2 L444.0,333.7 L442.9,336.0 L441.7,338.1 L440.2,340.1 L438.4,341.8 L436.1,343.2 L433.4,344.2 L430.4,345.0 L427.0,345.5 L423.3,345.8 L419.4,346.1 L415.3,346.3 L410.7,346.5 L405.7,346.6 L400.3,346.7 L395.0,346.6 L390.1,346.5 L385.7,346.3 L382.1,346.0 L378.8,345.7 L375.9,345.2 L373.2,344.7 L370.6,344.1 L368.0,343.4 L365.5,342.6 L363.0,341.9 L360.6,341.0 L358.5,340.0 L356.5,338.7 L354.7,337.1 L353.3,335.2 L352.0,333.0 L351.0,330.6 L350.2,328.0 L349.4,325.2 L348.8,322.3 L348.2,319.1 L347.8,315.5 L347.6,311.8 L347.4,308.1 L347.3,304.6 L347.3,301.4 L347.4,298.5 L347.5,295.7 L347.8,293.1 L348.1,290.7 L348.4,288.5 L348.8,286.4 L349.0,284.5 L349.0,282.7 L349.1,281.2 L349.5,279.8 L350.3,278.5Z" fill="none" stroke="#fe4343" stroke-width="0.5" opacity="0.6" stroke-dasharray="3,2"/><g fill="#fe4343"><circle cx="390.2" cy="321.5" r="1.46"/><circle cx="427.6" cy="320.6" r="1.16"/><circle cx="428.0" cy="318.4" r="0.82"/><circle cx="387.1" cy="313.5" r="0.87"/><circle cx="361.6" cy="323.7" r="0.91"/><circle cx="404.0" cy="335.8" r="1.77"/><circle cx="372.9" cy="300.3" r="1.80"/><circle cx="437.9" cy="318.8" r="1.08"/><circle cx="407.5" cy="318.9" r="1.10"/><circle cx="405.7" cy="297.2" r="1.38"/><circle cx="380.4" cy="294.6" r="1.35"/><circle cx="408.1" cy="313.1" r="0.99"/><circle cx="385.5" cy="290.5" r="1.11"/><circle cx="372.0" cy="298.6" r="1.09"/><circle cx="408.4" cy="283.5" r="1.03"/><circle cx="368.9" cy="299.2" r="1.69"/><circle cx="394.9" cy="292.4" r="1.80"/><circle cx="419.5" cy="324.4" r="1.57"/><circle cx="416.2" cy="328.8" r="0.82"/><circle cx="378.7" cy="284.9" r="1.38"/><circle cx="415.9" cy="297.0" r="1.50"/><circle cx="369.6" cy="296.0" r="1.25"/><circle cx="421.4" cy="282.9" r="1.27"/><circle cx="392.3" cy="303.0" r="1.51"/><circle cx="371.0" cy="283.7" r="1.63"/><circle cx="392.0" cy="330.0" r="1.48"/><circle cx="428.3" cy="313.2" r="0.95"/><circle cx="406.1" cy="315.4" r="1.58"/><circle cx="413.4" cy="321.9" r="1.19"/><circle cx="406.8" cy="303.2" r="1.25"/><circle cx="357.7" cy="300.5" r="1.63"/><circle cx="413.6" cy="296.9" r="1.21"/><circle cx="371.3" cy="334.1" r="1.78"/><circle cx="409.0" cy="321.3" r="1.02"/><circle cx="401.3" cy="332.9" r="1.39"/><circle cx="397.8" cy="312.1" r="1.22"/><circle cx="374.9" cy="328.2" r="1.77"/><circle cx="386.2" cy="287.9" r="1.42"/><circle cx="393.3" cy="303.1" r="1.72"/><circle cx="405.9" cy="279.7" r="1.61"/><circle cx="375.8" cy="323.0" r="0.89"/><circle cx="390.5" cy="303.8" r="0.85"/><circle cx="402.6" cy="322.9" r="1.13"/><circle cx="398.7" cy="310.2" r="0.94"/><circle cx="419.8" cy="321.8" r="0.81"/><circle cx="422.8" cy="291.6" r="0.93"/><circle cx="397.6" cy="329.4" r="1.16"/><circle cx="427.7" cy="331.2" r="1.81"/><circle cx="367.4" cy="314.9" r="0.87"/><circle cx="419.1" cy="321.6" r="1.06"/><circle cx="406.6" cy="298.3" r="0.80"/><circle cx="429.2" cy="302.7" r="0.93"/><circle cx="390.9" cy="308.5" r="1.33"/><circle cx="439.4" cy="305.9" r="1.50"/><circle cx="396.1" cy="329.9" r="0.95"/><circle cx="402.5" cy="286.1" r="1.59"/><circle cx="387.8" cy="323.7" r="1.62"/><circle cx="439.4" cy="307.1" r="1.62"/><circle cx="414.1" cy="284.2" r="1.02"/><circle cx="371.3" cy="307.8" r="0.81"/><circle cx="421.4" cy="313.0" r="1.05"/><circle cx="382.4" cy="279.8" r="1.25"/><circle cx="439.3" cy="297.4" r="1.77"/><circle cx="384.1" cy="321.6" r="1.02"/><circle cx="404.7" cy="324.1" r="1.43"/><circle cx="431.4" cy="292.3" r="1.28"/><circle cx="375.0" cy="285.8" r="0.87"/><circle cx="375.1" cy="283.4" r="1.59"/><circle cx="398.0" cy="287.2" r="0.97"/><circle cx="404.3" cy="291.5" r="1.61"/><circle cx="425.9" cy="306.3" r="1.20"/><circle cx="434.2" cy="300.8" r="0.96"/><circle cx="410.2" cy="319.2" r="1.72"/><circle cx="404.0" cy="298.2" r="1.64"/><circle cx="434.2" cy="306.7" r="1.14"/><circle cx="382.5" cy="306.4" r="0.79"/><circle cx="433.7" cy="305.2" r="1.33"/><circle cx="425.1" cy="301.2" r="1.69"/><circle cx="407.5" cy="296.5" r="1.04"/><circle cx="392.1" cy="325.6" r="1.39"/><circle cx="396.3" cy="331.3" r="0.92"/><circle cx="420.6" cy="299.5" r="1.26"/><circle cx="360.9" cy="294.3" r="1.22"/><circle cx="425.7" cy="298.4" r="1.33"/><circle cx="391.9" cy="309.3" r="1.24"/><circle cx="399.2" cy="311.9" r="1.61"/><circle cx="412.5" cy="330.1" r="1.53"/><circle cx="373.9" cy="303.5" r="1.32"/><circle cx="360.5" cy="300.0" r="0.89"/><circle cx="377.2" cy="303.9" r="1.07"/><circle cx="402.5" cy="286.7" r="1.36"/><circle cx="400.7" cy="278.5" r="1.24"/><circle cx="373.7" cy="294.8" r="1.31"/><circle cx="387.3" cy="289.2" r="1.33"/><circle cx="354.8" cy="314.4" r="1.51"/><circle cx="429.2" cy="287.6" r="1.05"/><circle cx="357.3" cy="298.3" r="1.65"/><circle cx="408.2" cy="318.7" r="1.24"/><circle cx="417.8" cy="317.1" r="0.86"/><circle cx="378.7" cy="284.4" r="1.71"/><circle cx="419.5" cy="333.0" r="1.47"/><circle cx="424.3" cy="334.3" r="1.79"/><circle cx="406.3" cy="341.6" r="1.19"/><circle cx="353.4" cy="312.6" r="1.65"/><circle cx="413.6" cy="328.4" r="1.32"/><circle cx="387.4" cy="322.4" r="1.11"/><circle cx="396.9" cy="305.5" r="1.36"/><circle cx="392.4" cy="311.6" r="1.12"/><circle cx="375.1" cy="293.4" r="0.85"/><circle cx="437.8" cy="307.3" r="1.79"/></g><path d="M440,318 Q452,322 462,324" stroke="#fe4343" stroke-width="0.6" fill="none"/><ellipse cx="372.6" cy="292.6" rx="12.0" ry="8.5" fill="#000"/><g fill="#000"><circle cx="378.7" cy="295.9" r="0.47"/><circle cx="374.0" cy="287.2" r="0.53"/><circle cx="360.0" cy="297.3" r="0.94"/><circle cx="372.3" cy="296.7" r="1.00"/><circle cx="361.3" cy="288.8" r="0.50"/><circle cx="384.2" cy="295.7" r="0.71"/><circle cx="385.7" cy="297.1" r="0.83"/><circle cx="374.0" cy="289.7" r="0.96"/><circle cx="385.3" cy="296.6" r="0.72"/><circle cx="366.7" cy="299.3" r="1.01"/><circle cx="372.0" cy="296.4" r="0.77"/><circle cx="373.0" cy="296.1" r="0.55"/><circle cx="379.0" cy="294.1" r="0.64"/><circle cx="368.2" cy="301.3" r="0.62"/><circle cx="366.3" cy="292.6" r="0.66"/><circle cx="380.1" cy="293.2" r="0.46"/><circle cx="371.4" cy="284.8" r="0.56"/><circle cx="358.3" cy="294.2" r="0.51"/><circle cx="376.7" cy="286.3" r="0.75"/><circle cx="377.4" cy="286.9" r="0.75"/><circle cx="366.9" cy="282.9" r="0.66"/><circle cx="378.8" cy="284.9" r="0.83"/><circle cx="365.3" cy="296.1" r="0.48"/><circle cx="375.3" cy="294.7" r="0.89"/><circle cx="372.4" cy="296.9" r="0.50"/><circle cx="380.2" cy="284.3" r="0.85"/><circle cx="371.1" cy="297.7" r="0.63"/><circle cx="366.8" cy="293.7" r="0.72"/><circle cx="371.4" cy="303.0" r="1.03"/><circle cx="365.5" cy="291.1" r="1.03"/><circle cx="369.3" cy="298.5" r="0.45"/><circle cx="365.0" cy="297.5" r="0.75"/><circle cx="375.8" cy="299.8" r="0.45"/><circle cx="372.2" cy="295.8" r="0.69"/><circle cx="374.8" cy="293.0" r="0.63"/><circle cx="373.8" cy="300.7" r="0.77"/><circle cx="372.6" cy="284.0" r="0.88"/><circle cx="379.4" cy="288.0" r="0.65"/><circle cx="378.4" cy="292.2" r="0.88"/><circle cx="370.6" cy="290.9" r="0.95"/><circle cx="381.8" cy="287.3" r="0.89"/><circle cx="374.7" cy="288.9" r="0.76"/><circle cx="358.9" cy="292.3" r="0.93"/><circle cx="377.9" cy="285.4" r="0.99"/><circle cx="367.5" cy="284.5" r="0.59"/><circle cx="378.0" cy="293.4" r="0.67"/><circle cx="383.4" cy="298.5" r="0.79"/><circle cx="364.4" cy="286.6" r="0.86"/><circle cx="371.7" cy="292.6" r="0.93"/><circle cx="372.5" cy="285.1" r="0.77"/><circle cx="370.5" cy="290.3" r="0.89"/><circle cx="372.5" cy="295.5" r="0.61"/><circle cx="371.7" cy="287.8" r="0.89"/><circle cx="383.0" cy="291.5" r="0.68"/><circle cx="360.3" cy="293.8" r="0.91"/><circle cx="363.7" cy="286.9" r="0.50"/><circle cx="377.1" cy="296.9" r="0.90"/><circle cx="368.8" cy="300.1" r="0.46"/><circle cx="379.8" cy="294.6" r="0.85"/><circle cx="368.2" cy="284.5" r="0.62"/><circle cx="362.4" cy="291.9" r="0.73"/><circle cx="383.0" cy="299.4" r="0.57"/><circle cx="387.0" cy="291.2" r="0.46"/><circle cx="359.5" cy="295.0" r="1.03"/><circle cx="365.2" cy="294.3" r="0.58"/><circle cx="379.1" cy="291.0" r="0.80"/><circle cx="379.4" cy="298.6" r="1.02"/><circle cx="381.7" cy="299.7" r="0.76"/><circle cx="382.1" cy="286.8" r="0.59"/><circle cx="381.0" cy="288.2" r="0.46"/><circle cx="383.1" cy="292.8" r="0.72"/><circle cx="370.8" cy="296.4" r="0.66"/><circle cx="367.1" cy="301.5" r="0.45"/><circle cx="372.7" cy="282.9" r="0.52"/><circle cx="383.9" cy="288.6" r="0.99"/><circle cx="370.3" cy="298.9" r="0.69"/><circle cx="384.1" cy="292.5" r="0.67"/><circle cx="365.5" cy="295.0" r="0.48"/><circle cx="383.6" cy="298.4" r="0.62"/><circle cx="379.5" cy="290.5" r="0.61"/><circle cx="366.1" cy="292.3" r="0.67"/><circle cx="386.2" cy="289.9" r="0.94"/><circle cx="362.8" cy="285.2" r="1.01"/><circle cx="360.5" cy="289.9" r="0.48"/><circle cx="371.5" cy="285.5" r="0.90"/><circle cx="367.7" cy="288.1" r="0.48"/><circle cx="377.4" cy="290.9" r="0.73"/><circle cx="368.1" cy="297.4" r="0.89"/><circle cx="380.2" cy="291.8" r="0.84"/><circle cx="369.1" cy="300.1" r="0.69"/><circle cx="375.6" cy="296.3" r="0.57"/><circle cx="381.4" cy="288.4" r="0.58"/><circle cx="385.1" cy="286.7" r="0.72"/><circle cx="376.8" cy="296.2" r="0.50"/><circle cx="370.1" cy="295.3" r="0.59"/><circle cx="372.0" cy="300.6" r="0.98"/><circle cx="372.6" cy="285.8" r="0.70"/><circle cx="363.5" cy="291.6" r="0.65"/><circle cx="379.9" cy="294.7" r="1.03"/><circle cx="380.1" cy="297.9" r="0.83"/><circle cx="377.1" cy="288.9" r="0.61"/><circle cx="372.7" cy="299.3" r="0.72"/><circle cx="385.8" cy="289.8" r="0.97"/><circle cx="375.3" cy="292.9" r="0.88"/><circle cx="380.8" cy="288.2" r="0.80"/><circle cx="382.0" cy="292.6" r="1.01"/><circle cx="378.9" cy="283.9" r="1.03"/><circle cx="372.6" cy="296.1" r="0.54"/><circle cx="360.3" cy="291.4" r="1.01"/><circle cx="370.5" cy="284.2" r="0.91"/></g><g fill="#000"><circle cx="360.1" cy="295.1" r="0.28"/><circle cx="374.3" cy="286.7" r="0.60"/><circle cx="366.7" cy="287.1" r="0.32"/><circle cx="372.4" cy="302.6" r="0.52"/><circle cx="376.1" cy="294.7" r="0.46"/><circle cx="363.1" cy="288.7" r="0.35"/><circle cx="371.2" cy="291.8" r="0.38"/><circle cx="356.0" cy="295.6" r="0.50"/><circle cx="381.6" cy="286.9" r="0.35"/><circle cx="372.9" cy="304.8" r="0.52"/><circle cx="371.7" cy="294.3" r="0.45"/><circle cx="367.4" cy="285.4" r="0.36"/><circle cx="364.2" cy="282.2" r="0.35"/><circle cx="382.5" cy="294.1" r="0.42"/><circle cx="369.4" cy="287.5" r="0.56"/><circle cx="371.8" cy="283.7" r="0.34"/><circle cx="382.2" cy="291.3" r="0.57"/><circle cx="373.6" cy="298.4" r="0.54"/><circle cx="367.8" cy="304.3" r="0.45"/><circle cx="375.8" cy="298.1" r="0.42"/><circle cx="364.0" cy="282.1" r="0.32"/><circle cx="366.3" cy="296.2" r="0.62"/><circle cx="375.1" cy="294.8" r="0.29"/><circle cx="359.6" cy="300.0" r="0.59"/><circle cx="370.7" cy="280.2" r="0.61"/><circle cx="369.0" cy="297.3" r="0.61"/><circle cx="372.5" cy="290.4" r="0.51"/><circle cx="364.9" cy="297.9" r="0.39"/><circle cx="373.1" cy="293.2" r="0.37"/><circle cx="362.4" cy="302.4" r="0.31"/><circle cx="380.4" cy="291.3" r="0.40"/><circle cx="379.5" cy="282.4" r="0.43"/><circle cx="384.1" cy="295.2" r="0.40"/><circle cx="379.3" cy="289.9" r="0.40"/><circle cx="375.0" cy="291.3" r="0.42"/><circle cx="378.4" cy="282.5" r="0.28"/><circle cx="376.9" cy="293.3" r="0.60"/><circle cx="371.9" cy="303.4" r="0.59"/><circle cx="367.8" cy="298.1" r="0.61"/><circle cx="366.0" cy="288.3" r="0.53"/><circle cx="368.9" cy="298.6" r="0.27"/><circle cx="373.2" cy="280.6" r="0.50"/><circle cx="375.2" cy="291.9" r="0.35"/><circle cx="355.7" cy="294.5" r="0.61"/><circle cx="366.0" cy="296.7" r="0.42"/><circle cx="355.8" cy="293.1" r="0.34"/><circle cx="377.5" cy="282.4" r="0.57"/><circle cx="374.5" cy="283.0" r="0.39"/><circle cx="368.1" cy="299.4" r="0.55"/><circle cx="379.4" cy="295.2" r="0.54"/><circle cx="372.7" cy="295.8" r="0.28"/><circle cx="363.2" cy="290.3" r="0.62"/><circle cx="385.5" cy="284.3" r="0.37"/><circle cx="377.3" cy="294.6" r="0.45"/><circle cx="369.7" cy="284.5" r="0.35"/><circle cx="360.7" cy="297.5" r="0.51"/><circle cx="372.4" cy="281.1" r="0.51"/><circle cx="384.2" cy="300.5" r="0.38"/><circle cx="362.8" cy="289.5" r="0.54"/><circle cx="375.3" cy="298.5" r="0.36"/><circle cx="382.0" cy="302.3" r="0.48"/><circle cx="367.5" cy="299.6" r="0.63"/><circle cx="364.2" cy="292.3" r="0.56"/><circle cx="362.7" cy="282.4" r="0.31"/><circle cx="357.0" cy="294.4" r="0.57"/><circle cx="375.6" cy="291.3" r="0.38"/><circle cx="378.2" cy="296.3" r="0.62"/><circle cx="358.0" cy="286.6" r="0.40"/><circle cx="380.4" cy="286.4" r="0.36"/><circle cx="375.6" cy="280.6" r="0.31"/></g><ellipse cx="421.8" cy="292.6" rx="12.0" ry="8.5" fill="#000"/><g fill="#000"><circle cx="412.1" cy="287.9" r="0.58"/><circle cx="418.0" cy="295.5" r="0.57"/><circle cx="421.4" cy="300.8" r="0.84"/><circle cx="422.3" cy="293.7" r="0.65"/><circle cx="419.0" cy="288.5" r="0.64"/><circle cx="425.7" cy="301.7" r="0.78"/><circle cx="426.2" cy="293.9" r="0.69"/><circle cx="410.4" cy="290.0" r="0.50"/><circle cx="428.3" cy="300.2" r="0.70"/><circle cx="420.1" cy="298.4" r="1.02"/><circle cx="417.5" cy="300.0" r="0.66"/><circle cx="409.7" cy="297.5" r="1.05"/><circle cx="417.4" cy="296.2" r="0.89"/><circle cx="422.1" cy="293.4" r="0.99"/><circle cx="409.7" cy="297.0" r="0.69"/><circle cx="429.3" cy="287.8" r="0.55"/><circle cx="432.9" cy="293.3" r="0.83"/><circle cx="425.6" cy="290.9" r="0.82"/><circle cx="414.5" cy="298.1" r="0.54"/><circle cx="419.6" cy="300.1" r="1.01"/><circle cx="429.9" cy="297.3" r="0.93"/><circle cx="428.3" cy="291.6" r="0.53"/><circle cx="435.7" cy="288.9" r="0.74"/><circle cx="435.4" cy="296.0" r="0.68"/><circle cx="431.5" cy="287.9" r="0.94"/><circle cx="428.9" cy="300.5" r="0.58"/><circle cx="410.4" cy="298.1" r="0.95"/><circle cx="424.7" cy="297.1" r="0.69"/><circle cx="412.6" cy="291.9" r="0.52"/><circle cx="422.0" cy="301.6" r="0.99"/><circle cx="432.7" cy="294.6" r="0.90"/><circle cx="435.1" cy="294.9" r="0.52"/><circle cx="412.8" cy="288.0" r="0.83"/><circle cx="418.4" cy="299.0" r="0.80"/><circle cx="410.9" cy="296.5" r="0.72"/><circle cx="419.7" cy="293.2" r="0.82"/><circle cx="414.5" cy="292.9" r="0.91"/><circle cx="423.7" cy="285.6" r="0.56"/><circle cx="417.0" cy="293.2" r="0.53"/><circle cx="417.7" cy="294.0" r="0.72"/><circle cx="418.8" cy="292.5" r="0.83"/><circle cx="433.0" cy="297.1" r="0.92"/><circle cx="418.3" cy="292.4" r="0.75"/><circle cx="411.3" cy="299.8" r="0.53"/><circle cx="431.1" cy="284.3" r="0.89"/><circle cx="424.4" cy="288.3" r="1.04"/><circle cx="407.1" cy="293.1" r="1.00"/><circle cx="428.6" cy="300.7" r="1.01"/><circle cx="429.9" cy="295.1" r="0.90"/><circle cx="429.5" cy="301.0" r="0.61"/><circle cx="424.1" cy="288.9" r="0.75"/><circle cx="427.8" cy="290.3" r="0.61"/><circle cx="413.3" cy="292.4" r="0.47"/><circle cx="424.3" cy="296.5" r="1.01"/><circle cx="415.7" cy="283.5" r="0.55"/><circle cx="422.9" cy="289.1" r="0.77"/><circle cx="415.9" cy="287.8" r="0.97"/><circle cx="411.1" cy="289.9" r="0.98"/><circle cx="433.6" cy="299.1" r="0.83"/><circle cx="411.3" cy="298.4" r="0.61"/><circle cx="433.2" cy="292.1" r="0.67"/><circle cx="422.7" cy="285.6" r="0.56"/><circle cx="421.7" cy="290.3" r="0.94"/><circle cx="421.5" cy="301.1" r="1.04"/><circle cx="411.3" cy="288.2" r="0.64"/><circle cx="424.6" cy="292.6" r="0.54"/><circle cx="414.4" cy="288.0" r="0.76"/><circle cx="426.1" cy="290.2" r="0.59"/><circle cx="420.5" cy="291.3" r="0.45"/><circle cx="418.8" cy="295.3" r="0.66"/><circle cx="423.6" cy="300.6" r="0.80"/><circle cx="425.2" cy="300.6" r="0.73"/><circle cx="431.4" cy="300.3" r="0.60"/><circle cx="424.5" cy="295.2" r="0.83"/><circle cx="431.0" cy="285.8" r="0.69"/><circle cx="421.7" cy="293.7" r="0.84"/><circle cx="413.6" cy="290.2" r="0.84"/><circle cx="408.2" cy="296.2" r="0.89"/><circle cx="421.9" cy="302.7" r="0.48"/><circle cx="412.4" cy="291.3" r="0.59"/><circle cx="434.2" cy="296.0" r="0.46"/><circle cx="408.0" cy="289.4" r="0.54"/><circle cx="425.4" cy="300.5" r="0.75"/><circle cx="413.3" cy="285.2" r="0.55"/><circle cx="418.8" cy="298.0" r="0.48"/><circle cx="432.0" cy="286.6" r="0.88"/><circle cx="435.6" cy="293.0" r="0.90"/><circle cx="409.2" cy="294.6" r="0.72"/><circle cx="422.5" cy="296.0" r="0.59"/><circle cx="430.2" cy="294.1" r="0.90"/><circle cx="417.1" cy="283.4" r="0.88"/><circle cx="420.7" cy="300.4" r="0.71"/><circle cx="424.4" cy="285.2" r="0.61"/><circle cx="412.6" cy="284.5" r="0.58"/><circle cx="423.1" cy="291.7" r="0.61"/><circle cx="422.9" cy="301.7" r="1.02"/><circle cx="421.6" cy="286.5" r="0.98"/><circle cx="418.3" cy="297.2" r="0.99"/><circle cx="413.3" cy="286.1" r="0.85"/><circle cx="432.0" cy="291.6" r="0.95"/><circle cx="417.3" cy="283.3" r="0.71"/><circle cx="420.0" cy="284.7" r="0.63"/><circle cx="424.6" cy="300.7" r="0.50"/><circle cx="426.6" cy="290.5" r="0.47"/><circle cx="433.1" cy="298.9" r="0.66"/><circle cx="423.4" cy="294.0" r="0.47"/><circle cx="417.6" cy="284.7" r="0.87"/><circle cx="421.5" cy="289.9" r="0.80"/><circle cx="412.9" cy="299.9" r="0.94"/><circle cx="424.8" cy="290.9" r="0.97"/></g><g fill="#000"><circle cx="436.4" cy="286.4" r="0.31"/><circle cx="423.4" cy="296.6" r="0.28"/><circle cx="430.9" cy="283.4" r="0.50"/><circle cx="428.1" cy="283.8" r="0.37"/><circle cx="426.2" cy="294.9" r="0.54"/><circle cx="424.6" cy="299.4" r="0.42"/><circle cx="430.6" cy="293.4" r="0.37"/><circle cx="419.5" cy="285.2" r="0.39"/><circle cx="433.9" cy="290.6" r="0.58"/><circle cx="419.5" cy="291.1" r="0.42"/><circle cx="407.6" cy="296.9" r="0.39"/><circle cx="418.2" cy="283.8" r="0.35"/><circle cx="425.2" cy="289.7" r="0.57"/><circle cx="422.1" cy="293.0" r="0.34"/><circle cx="423.1" cy="280.3" r="0.27"/><circle cx="409.6" cy="293.1" r="0.56"/><circle cx="426.7" cy="300.7" r="0.39"/><circle cx="426.2" cy="287.0" r="0.61"/><circle cx="420.1" cy="298.3" r="0.52"/><circle cx="416.0" cy="292.6" r="0.50"/><circle cx="435.4" cy="298.0" r="0.52"/><circle cx="425.0" cy="283.0" r="0.40"/><circle cx="412.9" cy="297.2" r="0.59"/><circle cx="435.9" cy="298.7" r="0.28"/><circle cx="424.2" cy="298.8" r="0.59"/><circle cx="411.0" cy="292.5" r="0.59"/><circle cx="423.0" cy="301.0" r="0.46"/><circle cx="422.2" cy="281.8" r="0.50"/><circle cx="416.0" cy="298.4" r="0.33"/><circle cx="429.7" cy="284.1" r="0.54"/><circle cx="427.4" cy="299.8" r="0.55"/><circle cx="416.3" cy="290.5" r="0.44"/><circle cx="428.2" cy="288.6" r="0.34"/><circle cx="417.1" cy="302.5" r="0.57"/><circle cx="425.7" cy="296.7" r="0.36"/><circle cx="415.9" cy="300.6" r="0.33"/><circle cx="418.2" cy="297.4" r="0.62"/><circle cx="421.1" cy="288.6" r="0.62"/><circle cx="430.5" cy="297.2" r="0.62"/><circle cx="426.0" cy="282.3" r="0.43"/><circle cx="426.4" cy="302.0" r="0.31"/><circle cx="424.7" cy="300.1" r="0.28"/><circle cx="409.3" cy="299.2" r="0.52"/><circle cx="407.9" cy="292.6" r="0.44"/><circle cx="430.3" cy="300.2" r="0.42"/><circle cx="420.9" cy="280.7" r="0.42"/><circle cx="408.3" cy="287.8" r="0.42"/><circle cx="423.8" cy="303.1" r="0.59"/><circle cx="424.0" cy="282.3" r="0.58"/><circle cx="415.8" cy="283.6" r="0.43"/><circle cx="416.5" cy="301.7" r="0.31"/><circle cx="408.3" cy="298.0" r="0.53"/><circle cx="415.8" cy="288.1" r="0.42"/><circle cx="408.5" cy="295.3" r="0.42"/><circle cx="414.2" cy="281.8" r="0.34"/><circle cx="413.1" cy="283.5" r="0.41"/><circle cx="404.6" cy="293.4" r="0.28"/><circle cx="415.0" cy="291.3" r="0.55"/><circle cx="433.5" cy="289.3" r="0.31"/><circle cx="410.3" cy="288.4" r="0.53"/><circle cx="407.8" cy="291.8" r="0.57"/><circle cx="410.7" cy="291.5" r="0.61"/><circle cx="425.4" cy="302.6" r="0.41"/><circle cx="422.3" cy="288.2" r="0.62"/><circle cx="419.2" cy="294.9" r="0.37"/><circle cx="420.2" cy="293.4" r="0.42"/><circle cx="409.0" cy="297.6" r="0.40"/><circle cx="421.0" cy="298.5" r="0.54"/><circle cx="433.6" cy="289.3" r="0.35"/><circle cx="425.3" cy="285.2" r="0.35"/></g><ellipse cx="373.3" cy="326.8" rx="12.0" ry="8.5" fill="#000"/><g fill="#000"><circle cx="382.4" cy="333.6" r="0.94"/><circle cx="366.5" cy="321.4" r="0.79"/><circle cx="375.5" cy="337.1" r="0.66"/><circle cx="364.6" cy="319.5" r="0.94"/><circle cx="365.3" cy="327.9" r="0.78"/><circle cx="383.0" cy="333.7" r="0.66"/><circle cx="377.9" cy="322.4" r="0.68"/><circle cx="373.1" cy="333.7" r="0.56"/><circle cx="386.0" cy="327.0" r="0.62"/><circle cx="373.6" cy="332.6" r="0.74"/><circle cx="362.5" cy="330.5" r="0.85"/><circle cx="363.9" cy="334.6" r="0.96"/><circle cx="386.1" cy="330.2" r="0.99"/><circle cx="374.5" cy="322.9" r="0.95"/><circle cx="372.1" cy="325.8" r="0.46"/><circle cx="384.9" cy="324.2" r="0.60"/><circle cx="377.9" cy="329.2" r="0.59"/><circle cx="374.8" cy="320.6" r="0.54"/><circle cx="384.3" cy="321.5" r="0.55"/><circle cx="382.4" cy="321.6" r="0.92"/><circle cx="366.3" cy="318.1" r="0.92"/><circle cx="376.8" cy="322.8" r="0.87"/><circle cx="360.6" cy="325.0" r="0.71"/><circle cx="381.6" cy="321.5" r="0.61"/><circle cx="373.9" cy="330.7" r="0.75"/><circle cx="382.9" cy="329.4" r="0.54"/><circle cx="362.7" cy="327.2" r="0.77"/><circle cx="374.1" cy="326.1" r="0.95"/><circle cx="362.3" cy="328.4" r="0.85"/><circle cx="378.2" cy="321.3" r="0.70"/><circle cx="377.3" cy="326.1" r="0.83"/><circle cx="371.6" cy="325.4" r="0.82"/><circle cx="367.3" cy="317.5" r="0.65"/><circle cx="383.9" cy="325.9" r="0.74"/><circle cx="375.5" cy="325.6" r="0.88"/><circle cx="367.1" cy="322.4" r="0.97"/><circle cx="366.4" cy="332.2" r="0.77"/><circle cx="374.2" cy="322.0" r="0.71"/><circle cx="363.4" cy="330.5" r="0.95"/><circle cx="369.7" cy="336.1" r="0.69"/><circle cx="365.5" cy="326.7" r="0.75"/><circle cx="385.3" cy="325.5" r="0.93"/><circle cx="369.2" cy="332.0" r="0.63"/><circle cx="363.1" cy="322.4" r="0.92"/><circle cx="385.6" cy="329.0" r="0.98"/><circle cx="370.1" cy="326.1" r="0.63"/><circle cx="379.8" cy="327.0" r="1.00"/><circle cx="363.9" cy="321.4" r="0.92"/><circle cx="383.2" cy="322.3" r="0.82"/><circle cx="364.6" cy="320.5" r="0.81"/><circle cx="370.4" cy="322.4" r="0.85"/><circle cx="360.7" cy="329.2" r="0.51"/><circle cx="374.5" cy="328.7" r="0.91"/><circle cx="383.7" cy="322.4" r="0.67"/><circle cx="379.2" cy="318.4" r="0.79"/><circle cx="372.9" cy="332.6" r="0.70"/><circle cx="369.2" cy="333.1" r="0.84"/><circle cx="376.5" cy="325.8" r="0.79"/><circle cx="378.3" cy="327.7" r="0.94"/><circle cx="360.5" cy="322.2" r="0.72"/><circle cx="382.6" cy="327.4" r="0.81"/><circle cx="387.0" cy="322.8" r="0.74"/><circle cx="369.2" cy="328.6" r="0.84"/><circle cx="374.7" cy="330.8" r="0.46"/><circle cx="385.7" cy="327.1" r="0.52"/><circle cx="377.7" cy="326.1" r="0.97"/><circle cx="374.7" cy="327.8" r="0.88"/><circle cx="373.9" cy="335.9" r="0.56"/><circle cx="385.8" cy="329.7" r="0.88"/><circle cx="381.2" cy="319.7" r="0.50"/><circle cx="364.6" cy="320.3" r="0.73"/><circle cx="380.2" cy="324.6" r="1.03"/><circle cx="373.0" cy="325.7" r="0.46"/><circle cx="365.4" cy="319.0" r="0.50"/><circle cx="368.5" cy="335.2" r="0.55"/><circle cx="380.0" cy="321.1" r="0.49"/><circle cx="365.6" cy="332.7" r="0.71"/><circle cx="370.8" cy="323.2" r="0.93"/><circle cx="365.4" cy="333.2" r="0.83"/><circle cx="365.2" cy="330.0" r="0.92"/><circle cx="385.8" cy="323.6" r="0.79"/><circle cx="372.3" cy="329.3" r="1.03"/><circle cx="369.4" cy="317.6" r="0.65"/><circle cx="361.6" cy="320.3" r="0.95"/><circle cx="366.6" cy="323.3" r="0.71"/><circle cx="380.3" cy="322.6" r="0.86"/><circle cx="361.9" cy="320.8" r="0.93"/><circle cx="373.2" cy="327.2" r="0.61"/><circle cx="363.1" cy="330.6" r="0.94"/><circle cx="375.6" cy="325.4" r="0.95"/><circle cx="378.6" cy="317.7" r="0.79"/><circle cx="371.2" cy="336.5" r="0.93"/><circle cx="367.6" cy="317.5" r="0.66"/><circle cx="382.9" cy="330.8" r="0.93"/><circle cx="377.3" cy="335.5" r="1.01"/><circle cx="374.5" cy="335.0" r="0.86"/><circle cx="366.6" cy="327.8" r="0.60"/><circle cx="373.4" cy="317.4" r="0.73"/><circle cx="384.8" cy="331.8" r="0.91"/><circle cx="374.5" cy="334.8" r="0.99"/><circle cx="381.4" cy="321.7" r="0.74"/><circle cx="367.8" cy="324.3" r="0.57"/><circle cx="378.6" cy="334.8" r="0.67"/><circle cx="364.6" cy="324.2" r="0.76"/><circle cx="375.2" cy="328.6" r="1.05"/><circle cx="369.9" cy="329.3" r="0.83"/><circle cx="374.7" cy="322.7" r="0.81"/><circle cx="367.2" cy="333.1" r="0.46"/><circle cx="387.9" cy="329.0" r="0.97"/><circle cx="362.0" cy="327.5" r="0.61"/></g><g fill="#000"><circle cx="375.4" cy="318.8" r="0.61"/><circle cx="375.0" cy="315.6" r="0.62"/><circle cx="373.2" cy="329.2" r="0.34"/><circle cx="375.4" cy="330.1" r="0.29"/><circle cx="358.0" cy="322.7" r="0.43"/><circle cx="389.1" cy="322.9" r="0.29"/><circle cx="364.3" cy="322.2" r="0.31"/><circle cx="381.9" cy="325.2" r="0.47"/><circle cx="362.4" cy="317.3" r="0.51"/><circle cx="364.1" cy="332.0" r="0.33"/><circle cx="390.3" cy="324.1" r="0.35"/><circle cx="381.9" cy="328.3" r="0.40"/><circle cx="386.9" cy="320.0" r="0.57"/><circle cx="388.1" cy="330.0" r="0.53"/><circle cx="362.8" cy="316.9" r="0.29"/><circle cx="382.6" cy="335.4" r="0.61"/><circle cx="369.1" cy="320.7" r="0.48"/><circle cx="373.6" cy="322.7" r="0.39"/><circle cx="373.0" cy="331.2" r="0.44"/><circle cx="377.5" cy="332.1" r="0.32"/><circle cx="372.4" cy="325.5" r="0.53"/><circle cx="374.4" cy="329.0" r="0.60"/><circle cx="376.4" cy="338.7" r="0.58"/><circle cx="378.3" cy="323.8" r="0.43"/><circle cx="387.1" cy="333.7" r="0.57"/><circle cx="365.2" cy="320.7" r="0.39"/><circle cx="378.7" cy="319.1" r="0.50"/><circle cx="378.4" cy="331.4" r="0.29"/><circle cx="370.4" cy="317.7" r="0.32"/><circle cx="379.5" cy="322.1" r="0.42"/><circle cx="378.4" cy="332.2" r="0.57"/><circle cx="369.7" cy="331.2" r="0.45"/><circle cx="366.4" cy="337.6" r="0.31"/><circle cx="377.4" cy="326.4" r="0.59"/><circle cx="369.4" cy="321.8" r="0.44"/><circle cx="371.3" cy="333.0" r="0.34"/><circle cx="361.8" cy="336.2" r="0.63"/><circle cx="378.2" cy="325.0" r="0.37"/><circle cx="376.6" cy="325.0" r="0.53"/><circle cx="368.6" cy="338.7" r="0.28"/><circle cx="376.9" cy="320.0" r="0.32"/><circle cx="389.3" cy="326.9" r="0.46"/><circle cx="377.8" cy="334.4" r="0.60"/><circle cx="375.9" cy="336.1" r="0.32"/><circle cx="379.8" cy="336.7" r="0.53"/><circle cx="374.9" cy="330.1" r="0.30"/><circle cx="363.7" cy="321.3" r="0.37"/><circle cx="377.0" cy="336.2" r="0.52"/><circle cx="378.3" cy="318.0" r="0.34"/><circle cx="387.0" cy="331.1" r="0.42"/><circle cx="372.6" cy="323.9" r="0.56"/><circle cx="365.1" cy="336.7" r="0.58"/><circle cx="371.1" cy="326.9" r="0.60"/><circle cx="357.1" cy="328.5" r="0.37"/><circle cx="379.5" cy="337.3" r="0.40"/><circle cx="378.8" cy="333.3" r="0.48"/><circle cx="385.9" cy="327.1" r="0.43"/><circle cx="367.2" cy="326.4" r="0.53"/><circle cx="379.9" cy="316.2" r="0.39"/><circle cx="370.7" cy="319.3" r="0.54"/><circle cx="388.5" cy="331.2" r="0.61"/><circle cx="360.8" cy="327.1" r="0.46"/><circle cx="370.9" cy="326.4" r="0.62"/><circle cx="374.5" cy="332.1" r="0.31"/><circle cx="373.3" cy="338.1" r="0.28"/><circle cx="385.3" cy="332.8" r="0.34"/><circle cx="386.8" cy="327.9" r="0.48"/><circle cx="358.8" cy="325.3" r="0.31"/><circle cx="383.4" cy="319.1" r="0.29"/><circle cx="382.1" cy="332.9" r="0.45"/></g><ellipse cx="421.8" cy="327.2" rx="12.0" ry="8.5" fill="#000"/><g fill="#000"><circle cx="420.8" cy="330.8" r="0.69"/><circle cx="429.3" cy="333.4" r="0.97"/><circle cx="428.6" cy="333.6" r="0.90"/><circle cx="428.8" cy="335.5" r="1.01"/><circle cx="414.4" cy="331.6" r="0.95"/><circle cx="412.5" cy="326.1" r="1.01"/><circle cx="423.3" cy="321.1" r="0.59"/><circle cx="416.8" cy="333.2" r="1.04"/><circle cx="426.6" cy="317.7" r="0.94"/><circle cx="423.8" cy="325.2" r="0.76"/><circle cx="435.8" cy="324.5" r="0.60"/><circle cx="411.3" cy="331.2" r="0.67"/><circle cx="417.9" cy="326.7" r="0.71"/><circle cx="419.6" cy="327.2" r="0.53"/><circle cx="434.8" cy="325.4" r="1.01"/><circle cx="412.8" cy="320.1" r="0.98"/><circle cx="423.9" cy="325.9" r="0.83"/><circle cx="420.6" cy="335.9" r="0.61"/><circle cx="407.9" cy="324.5" r="0.82"/><circle cx="421.8" cy="334.8" r="0.71"/><circle cx="429.5" cy="325.5" r="0.63"/><circle cx="418.7" cy="324.3" r="0.81"/><circle cx="432.1" cy="325.1" r="0.61"/><circle cx="411.1" cy="328.8" r="0.54"/><circle cx="425.7" cy="329.9" r="0.63"/><circle cx="415.1" cy="330.4" r="0.60"/><circle cx="431.2" cy="331.3" r="0.95"/><circle cx="413.1" cy="322.1" r="0.84"/><circle cx="425.6" cy="335.7" r="0.73"/><circle cx="410.6" cy="324.7" r="0.73"/><circle cx="419.1" cy="332.0" r="0.58"/><circle cx="412.5" cy="326.7" r="0.80"/><circle cx="430.7" cy="327.7" r="0.97"/><circle cx="422.6" cy="335.1" r="0.74"/><circle cx="418.6" cy="337.5" r="0.63"/><circle cx="422.6" cy="323.0" r="0.49"/><circle cx="428.7" cy="322.1" r="0.49"/><circle cx="414.2" cy="331.8" r="0.89"/><circle cx="427.3" cy="330.4" r="1.03"/><circle cx="421.4" cy="323.0" r="0.65"/><circle cx="414.4" cy="334.2" r="0.82"/><circle cx="429.8" cy="319.4" r="0.76"/><circle cx="420.9" cy="318.1" r="0.91"/><circle cx="408.7" cy="328.7" r="0.88"/><circle cx="426.4" cy="325.3" r="0.97"/><circle cx="434.9" cy="327.5" r="0.80"/><circle cx="407.1" cy="327.3" r="0.79"/><circle cx="410.2" cy="331.8" r="0.97"/><circle cx="414.6" cy="323.1" r="0.72"/><circle cx="409.5" cy="329.6" r="0.63"/><circle cx="413.2" cy="332.2" r="0.68"/><circle cx="416.0" cy="335.7" r="0.96"/><circle cx="411.8" cy="327.2" r="0.56"/><circle cx="419.9" cy="331.0" r="0.80"/><circle cx="417.9" cy="325.7" r="1.00"/><circle cx="415.6" cy="335.9" r="0.95"/><circle cx="428.4" cy="326.0" r="0.71"/><circle cx="423.1" cy="326.6" r="0.48"/><circle cx="412.1" cy="324.2" r="1.00"/><circle cx="423.4" cy="319.5" r="1.05"/><circle cx="411.1" cy="326.4" r="0.86"/><circle cx="414.9" cy="331.3" r="0.81"/><circle cx="413.1" cy="335.5" r="0.86"/><circle cx="417.1" cy="326.7" r="0.67"/><circle cx="412.7" cy="331.8" r="0.79"/><circle cx="432.5" cy="320.1" r="0.74"/><circle cx="410.8" cy="330.3" r="1.05"/><circle cx="415.8" cy="333.6" r="0.94"/><circle cx="425.8" cy="332.5" r="1.04"/><circle cx="426.7" cy="320.5" r="0.52"/><circle cx="431.6" cy="321.8" r="0.94"/><circle cx="435.9" cy="326.6" r="0.70"/><circle cx="426.3" cy="331.9" r="0.76"/><circle cx="415.3" cy="327.1" r="0.56"/><circle cx="413.8" cy="321.2" r="0.66"/><circle cx="433.8" cy="326.9" r="0.48"/><circle cx="410.5" cy="332.2" r="0.63"/><circle cx="421.5" cy="326.6" r="0.63"/><circle cx="428.1" cy="320.4" r="0.85"/><circle cx="425.3" cy="334.3" r="0.78"/><circle cx="420.6" cy="335.7" r="0.77"/><circle cx="433.2" cy="327.1" r="0.70"/><circle cx="426.1" cy="330.1" r="0.91"/><circle cx="425.5" cy="329.3" r="0.55"/><circle cx="408.3" cy="325.8" r="0.82"/><circle cx="423.1" cy="324.7" r="0.46"/><circle cx="422.9" cy="321.2" r="0.88"/><circle cx="418.1" cy="330.7" r="0.61"/><circle cx="433.4" cy="333.1" r="0.80"/><circle cx="415.9" cy="333.0" r="0.68"/><circle cx="435.1" cy="330.6" r="0.80"/><circle cx="431.4" cy="325.4" r="0.82"/><circle cx="421.8" cy="329.4" r="1.01"/><circle cx="426.9" cy="322.5" r="0.99"/><circle cx="425.1" cy="321.9" r="0.81"/><circle cx="432.0" cy="325.3" r="1.02"/><circle cx="422.2" cy="333.8" r="0.88"/><circle cx="423.3" cy="333.0" r="0.98"/><circle cx="408.5" cy="328.1" r="0.60"/><circle cx="426.0" cy="332.8" r="0.56"/><circle cx="429.8" cy="326.2" r="0.79"/><circle cx="430.0" cy="332.3" r="0.68"/><circle cx="418.7" cy="328.7" r="0.52"/><circle cx="425.9" cy="321.6" r="0.60"/><circle cx="424.7" cy="332.5" r="0.59"/><circle cx="433.7" cy="329.1" r="0.65"/><circle cx="428.8" cy="334.6" r="0.51"/><circle cx="420.1" cy="336.8" r="0.53"/><circle cx="408.9" cy="330.6" r="0.93"/><circle cx="426.6" cy="332.5" r="0.88"/></g><g fill="#000"><circle cx="409.5" cy="335.7" r="0.34"/><circle cx="433.6" cy="324.5" r="0.35"/><circle cx="415.7" cy="328.5" r="0.52"/><circle cx="420.7" cy="339.0" r="0.48"/><circle cx="415.9" cy="331.8" r="0.49"/><circle cx="425.6" cy="338.6" r="0.31"/><circle cx="409.0" cy="326.4" r="0.37"/><circle cx="423.3" cy="319.5" r="0.51"/><circle cx="412.9" cy="324.3" r="0.41"/><circle cx="428.1" cy="329.9" r="0.58"/><circle cx="415.7" cy="336.4" r="0.31"/><circle cx="412.1" cy="324.3" r="0.45"/><circle cx="420.5" cy="330.3" r="0.38"/><circle cx="422.7" cy="331.6" r="0.53"/><circle cx="419.6" cy="335.0" r="0.60"/><circle cx="424.4" cy="315.6" r="0.58"/><circle cx="428.0" cy="332.1" r="0.28"/><circle cx="415.7" cy="318.0" r="0.40"/><circle cx="409.7" cy="332.5" r="0.52"/><circle cx="422.0" cy="338.7" r="0.40"/><circle cx="416.7" cy="323.3" r="0.31"/><circle cx="434.6" cy="321.6" r="0.53"/><circle cx="425.2" cy="327.8" r="0.33"/><circle cx="424.9" cy="333.7" r="0.41"/><circle cx="431.3" cy="328.9" r="0.50"/><circle cx="428.7" cy="337.6" r="0.48"/><circle cx="420.0" cy="321.0" r="0.43"/><circle cx="417.7" cy="320.4" r="0.27"/><circle cx="429.6" cy="317.7" r="0.37"/><circle cx="437.4" cy="330.3" r="0.49"/><circle cx="430.1" cy="329.0" r="0.31"/><circle cx="423.9" cy="321.7" r="0.60"/><circle cx="421.8" cy="323.5" r="0.52"/><circle cx="409.9" cy="333.9" r="0.57"/><circle cx="420.8" cy="330.9" r="0.61"/><circle cx="406.8" cy="332.7" r="0.52"/><circle cx="420.7" cy="315.8" r="0.50"/><circle cx="417.9" cy="328.1" r="0.52"/><circle cx="410.5" cy="331.1" r="0.60"/><circle cx="432.4" cy="335.0" r="0.29"/><circle cx="417.2" cy="316.5" r="0.36"/><circle cx="405.3" cy="323.7" r="0.50"/><circle cx="413.4" cy="325.5" r="0.29"/><circle cx="414.8" cy="333.4" r="0.34"/><circle cx="419.4" cy="331.5" r="0.52"/><circle cx="417.7" cy="321.9" r="0.36"/><circle cx="410.2" cy="326.4" r="0.61"/><circle cx="416.1" cy="332.7" r="0.59"/><circle cx="430.1" cy="334.5" r="0.39"/><circle cx="427.0" cy="318.7" r="0.54"/><circle cx="428.7" cy="336.1" r="0.49"/><circle cx="406.9" cy="329.8" r="0.57"/><circle cx="428.9" cy="331.6" r="0.40"/><circle cx="423.0" cy="330.2" r="0.37"/><circle cx="426.6" cy="337.1" r="0.43"/><circle cx="429.4" cy="331.8" r="0.44"/><circle cx="417.1" cy="331.1" r="0.30"/><circle cx="439.2" cy="328.0" r="0.54"/><circle cx="434.6" cy="332.5" r="0.62"/><circle cx="416.5" cy="325.6" r="0.45"/><circle cx="414.8" cy="329.4" r="0.47"/><circle cx="438.6" cy="327.8" r="0.50"/><circle cx="410.0" cy="318.5" r="0.50"/><circle cx="421.7" cy="333.4" r="0.32"/><circle cx="437.0" cy="329.1" r="0.57"/><circle cx="419.6" cy="332.4" r="0.50"/><circle cx="431.3" cy="317.3" r="0.33"/><circle cx="425.2" cy="316.1" r="0.54"/><circle cx="418.3" cy="332.0" r="0.57"/><circle cx="417.3" cy="334.1" r="0.47"/></g><rect x="341.5" y="269.8" width="124.0" height="86.2" fill="none" stroke="#b0b0b0" stroke-width="0.9"/><path d="M341.5,269.8V356.0H465.5" stroke="#555" stroke-width="0.9" fill="none"/><path d="M339.3,356.0H341.5M339.3,337.1H341.5M339.3,324.8H341.5M339.3,312.4H341.5M339.3,300.1H341.5M339.3,287.8H341.5M339.3,269.8H341.5M341.5,356.0V358.2M367.4,356.0V358.2M385.4,356.0V358.2M403.3,356.0V358.2M421.2,356.0V358.2M439.2,356.0V358.2M457.1,356.0V358.2M465.5,356.0V358.2" stroke="#707070" stroke-width="0.7" fill="none"/><text x="339.0" y="357.6" text-anchor="end" class="sm">-1,7</text><text x="339.0" y="338.7" text-anchor="end" class="sm">-1,0</text><text x="339.0" y="326.4" text-anchor="end" class="sm">-0,5</text><text x="339.0" y="314.1" text-anchor="end" class="sm">0,0</text><text x="339.0" y="301.8" text-anchor="end" class="sm">0,5</text><text x="339.0" y="289.4" text-anchor="end" class="sm">1,0</text><text x="339.0" y="271.4" text-anchor="end" class="sm">1,7</text><text x="341.5" y="363.6" text-anchor="middle" class="sm">-1,7</text><text x="367.4" y="363.6" text-anchor="middle" class="sm">-1,0</text><text x="385.4" y="363.6" text-anchor="middle" class="sm">-0,5</text><text x="403.3" y="363.6" text-anchor="middle" class="sm">0,0</text><text x="421.2" y="363.6" text-anchor="middle" class="sm">0,5</text><text x="439.2" y="363.6" text-anchor="middle" class="sm">1,0</text><text x="457.1" y="363.6" text-anchor="middle" class="sm">1,5</text><text x="465.5" y="363.6" text-anchor="middle" class="sm">1,7</text><text class="sm" x="312.0" y="263.8">RX Constellation</text><text class="sm" transform="translate(326.1,312.4) rotate(-90)" text-anchor="middle">Q</text><text class="sm" x="403.3" y="370.3" text-anchor="middle">I</text>
<path d="M48.50,197.57 L59.17,197.67 L69.84,197.87 L80.51,198.17 L91.18,198.58 L101.85,199.09 L112.52,199.70 L123.19,200.40 L133.87,201.20 L144.54,202.08 L155.21,203.05 L165.88,204.09 L176.55,205.22 L187.22,206.43 L197.89,207.70 L208.56,209.05 L219.23,210.46 L229.90,211.94 L240.57,213.48 L251.24,215.07 L261.91,216.72 L272.58,218.43 L283.26,220.18 L293.93,221.97 L304.60,223.81 L315.27,225.69 L325.94,227.61 L336.61,229.55 L347.28,231.53 L357.95,233.54 L368.62,235.57 L379.29,237.62 L389.96,239.69 L400.63,241.77 L411.30,243.87 L421.97,245.97 L432.65,248.08 L443.32,250.20 L453.99,252.31 L464.66,254.42 L475.33,256.53 L486.00,258.62 L496.67,260.71 L507.34,262.77 L518.01,264.82 L528.68,266.85 L539.35,268.85 L550.02,270.83 L560.69,272.77 L571.36,274.68 L582.04,276.56 L592.71,278.39 L603.38,280.19 L614.05,281.93 L624.72,283.63 L635.39,285.27 L646.06,286.87 L656.73,288.40 L667.40,289.87 L678.07,291.28" stroke="#dd0000" stroke-width="2.5" fill="none"/>
<path d="M48.50,187.45 L54.20,187.42 L59.89,187.38 L65.59,187.35 L71.29,187.34 L76.99,187.33 L82.68,187.34 L88.38,187.37 L94.08,187.41 L99.78,187.49 L105.47,187.58 L111.17,187.71 L116.87,187.87 L122.57,188.07 L128.26,188.31 L133.96,188.59 L139.66,188.91 L145.36,189.29 L151.05,189.71 L156.75,190.18 L162.45,190.70 L168.15,191.26 L173.84,191.86 L179.54,192.49 L185.24,193.17 L190.94,193.87 L196.63,194.61 L202.33,195.37 L208.03,196.15 L213.73,196.96 L219.42,197.78 L225.12,198.62 L230.82,199.48 L236.52,200.34 L242.21,201.21 L247.91,202.09 L253.61,202.97 L259.31,203.86 L265.00,204.76 L270.70,205.66 L276.40,206.57 L282.10,207.49 L287.79,208.42 L293.49,209.36 L299.19,210.30 L304.89,211.26 L310.58,212.23 L316.28,213.21 L321.98,214.21 L327.68,215.21 L333.37,216.23 L339.07,217.27 L344.77,218.31 L350.47,219.37 L356.16,220.44 L361.86,221.51 L367.56,222.59 L373.26,223.67 L378.95,224.74 L384.65,225.81 L390.35,226.87 L396.05,227.92 L401.74,228.95 L407.44,229.97 L413.14,230.97 L418.84,231.94 L424.53,232.89 L430.23,233.81 L435.93,234.69 L441.63,235.55 L447.32,236.37 L453.02,237.16 L458.72,237.92 L464.42,238.66 L470.11,239.37 L475.81,240.06 L481.51,240.73 L487.21,241.38 L492.90,242.01 L498.60,242.63 L504.30,243.24 L510.00,243.83 L515.69,244.42 L521.39,245.01 L527.09,245.58 L532.79,246.16 L538.48,246.74 L544.18,247.31 L549.88,247.88 L555.58,248.45 L561.27,249.01 L566.97,249.55 L572.67,250.09 L578.37,250.61 L584.06,251.12 L589.76,251.61 L595.46,252.09 L601.16,252.54 L606.85,252.97 L612.55,253.37 L618.25,253.75 L623.95,254.10 L629.64,254.42 L635.34,254.71 L641.04,254.96 L646.74,255.19 L652.43,255.40 L658.13,255.57 L663.83,255.73 L669.53,255.86 L675.22,255.98 L680.92,256.08 L686.62,256.16 L692.32,256.23 L698.01,256.29 L703.71,256.34 L709.41,256.38 L715.11,256.42 L720.80,256.45 L726.50,256.48" stroke="#0000c8" stroke-width="2.5" fill="none" stroke-dasharray="2.6,2.25"/>
<path d="M48.50,182.87 L54.20,182.80 L59.89,182.74 L65.59,182.69 L71.29,182.65 L76.99,182.61 L82.68,182.60 L88.38,182.60 L94.08,182.62 L99.78,182.66 L105.47,182.73 L111.17,182.84 L116.87,182.97 L122.57,183.14 L128.26,183.35 L133.96,183.60 L139.66,183.90 L145.36,184.24 L151.05,184.63 L156.75,185.07 L162.45,185.56 L168.15,186.08 L173.84,186.64 L179.54,187.23 L185.24,187.85 L190.94,188.49 L196.63,189.16 L202.33,189.84 L208.03,190.54 L213.73,191.24 L219.42,191.96 L225.12,192.67 L230.82,193.38 L236.52,194.09 L242.21,194.79 L247.91,195.48 L253.61,196.16 L259.31,196.83 L265.00,197.49 L270.70,198.16 L276.40,198.82 L282.10,199.49 L287.79,200.17 L293.49,200.85 L299.19,201.55 L304.89,202.25 L310.58,202.98 L316.28,203.72 L321.98,204.49 L327.68,205.28 L333.37,206.10 L339.07,206.95 L344.77,207.82 L350.47,208.73 L356.16,209.66 L361.86,210.62 L367.56,211.59 L373.26,212.57 L378.95,213.57 L384.65,214.57 L390.35,215.57 L396.05,216.57 L401.74,217.57 L407.44,218.56 L413.14,219.53 L418.84,220.49 L424.53,221.43 L430.23,222.34 L435.93,223.23 L441.63,224.08 L447.32,224.91 L453.02,225.72 L458.72,226.50 L464.42,227.26 L470.11,228.01 L475.81,228.74 L481.51,229.46 L487.21,230.18 L492.90,230.90 L498.60,231.61 L504.30,232.33 L510.00,233.05 L515.69,233.79 L521.39,234.53 L527.09,235.29 L532.79,236.07 L538.48,236.87 L544.18,237.69 L549.88,238.51 L555.58,239.35 L561.27,240.18 L566.97,241.01 L572.67,241.82 L578.37,242.62 L584.06,243.40 L589.76,244.15 L595.46,244.88 L601.16,245.56 L606.85,246.20 L612.55,246.79 L618.25,247.33 L623.95,247.81 L629.64,248.23 L635.34,248.57 L641.04,248.85 L646.74,249.07 L652.43,249.24 L658.13,249.35 L663.83,249.41 L669.53,249.42 L675.22,249.40 L680.92,249.33 L686.62,249.24 L692.32,249.11 L698.01,248.97 L703.71,248.80 L709.41,248.61 L715.11,248.41 L720.80,248.21 L726.50,248.00" stroke="#006800" stroke-width="2.5" fill="none" stroke-dasharray="7.5,2.3"/>
<path d="M48.50,156.72 L54.20,156.72 L59.89,156.72 L65.59,156.72 L71.29,156.72 L76.99,156.73 L82.68,156.75 L88.38,156.77 L94.08,156.80 L99.78,156.84 L105.47,156.89 L111.17,156.95 L116.87,157.03 L122.57,157.11 L128.26,157.22 L133.96,157.34 L139.66,157.48 L145.36,157.64 L151.05,157.82 L156.75,158.01 L162.45,158.23 L168.15,158.47 L173.84,158.73 L179.54,159.01 L185.24,159.31 L190.94,159.62 L196.63,159.96 L202.33,160.32 L208.03,160.70 L213.73,161.09 L219.42,161.51 L225.12,161.95 L230.82,162.40 L236.52,162.88 L242.21,163.37 L247.91,163.89 L253.61,164.42 L259.31,164.97 L265.00,165.53 L270.70,166.10 L276.40,166.68 L282.10,167.27 L287.79,167.87 L293.49,168.48 L299.19,169.08 L304.89,169.69 L310.58,170.29 L316.28,170.89 L321.98,171.49 L327.68,172.08 L333.37,172.66 L339.07,173.23 L344.77,173.79 L350.47,174.34 L356.16,174.89 L361.86,175.43 L367.56,175.97 L373.26,176.51 L378.95,177.06 L384.65,177.62 L390.35,178.19 L396.05,178.78 L401.74,179.38 L407.44,180.00 L413.14,180.65 L418.84,181.33 L424.53,182.04 L430.23,182.78 L435.93,183.55 L441.63,184.37 L447.32,185.22 L453.02,186.10 L458.72,187.02 L464.42,187.96 L470.11,188.93 L475.81,189.92 L481.51,190.92 L487.21,191.94 L492.90,192.98 L498.60,194.02 L504.30,195.07 L510.00,196.12 L515.69,197.17 L521.39,198.22 L527.09,199.26 L532.79,200.29 L538.48,201.32 L544.18,202.33 L549.88,203.33 L555.58,204.32 L561.27,205.30 L566.97,206.28 L572.67,207.25 L578.37,208.21 L584.06,209.17 L589.76,210.13 L595.46,211.08 L601.16,212.04 L606.85,212.99 L612.55,213.94 L618.25,214.89 L623.95,215.85 L629.64,216.81 L635.34,217.77 L641.04,218.74 L646.74,219.71 L652.43,220.68 L658.13,221.66 L663.83,222.64 L669.53,223.62 L675.22,224.61 L680.92,225.60 L686.62,226.59 L692.32,227.58 L698.01,228.57 L703.71,229.56 L709.41,230.56 L715.11,231.56 L720.80,232.55 L726.50,233.55" stroke="#00a8b0" stroke-width="2.5" fill="none" stroke-dasharray="7.6,2.4,2,3"/>
<path d="M45.00,194.04L52.00,201.04M45.00,201.04L52.00,194.04M93.43,194.96L100.43,201.96M93.43,201.96L100.43,194.96M141.86,199.09L148.86,206.09M141.86,206.09L148.86,199.09M190.29,202.99L197.29,209.99M190.29,209.99L197.29,202.99M238.71,211.47L245.71,218.47M238.71,218.47L245.71,211.47M287.14,218.81L294.14,225.81M287.14,225.81L294.14,218.81M335.57,225.69L342.57,232.69M335.57,232.69L342.57,225.69M384.00,235.78L391.00,242.78M384.00,242.78L391.00,235.78M432.43,243.12L439.43,250.12M432.43,250.12L439.43,243.12M480.86,255.05L487.86,262.05M480.86,262.05L487.86,255.05M529.29,263.76L536.29,270.76M529.29,270.76L536.29,263.76M577.71,275.69L584.71,282.69M577.71,282.69L584.71,275.69M626.14,280.27L633.14,287.27M626.14,287.27L633.14,280.27M674.57,287.15L681.57,294.15M674.57,294.15L681.57,287.15" stroke="#dd0000" stroke-width="2.9" fill="none" stroke-linecap="square"/>
<path d="M45.00,183.95L52.00,190.95M45.00,190.95L52.00,183.95M141.86,185.79L148.86,192.79M141.86,192.79L148.86,185.79M238.71,197.71L245.71,204.71M238.71,204.71L245.71,197.71M335.57,213.77L342.57,220.77M335.57,220.77L342.57,213.77M432.43,231.19L439.43,238.19M432.43,238.19L439.43,231.19M529.29,242.66L536.29,249.66M529.29,249.66L536.29,242.66M626.14,250.92L633.14,257.92M626.14,257.92L633.14,250.92M723.00,252.98L730.00,259.98M723.00,259.98L730.00,252.98" stroke="#0000c8" stroke-width="2.9" fill="none" stroke-linecap="square"/>
<path d="M45.00,179.37L52.00,186.37M45.00,186.37L52.00,179.37M141.86,180.74L148.86,187.74M141.86,187.74L148.86,180.74M238.71,191.29L245.71,198.29M238.71,198.29L245.71,191.29M335.57,203.45L342.57,210.45M335.57,210.45L342.57,203.45M432.43,219.73L439.43,226.73M432.43,226.73L439.43,219.73M529.29,232.57L536.29,239.57M529.29,239.57L536.29,232.57M626.14,244.73L633.14,251.73M626.14,251.73L633.14,244.73M723.00,244.50L730.00,251.50M723.00,251.50L730.00,244.50" stroke="#006800" stroke-width="2.9" fill="none" stroke-linecap="square"/>
<path d="M45.00,153.22L52.00,160.22M45.00,160.22L52.00,153.22M141.86,154.14L148.86,161.14M141.86,161.14L148.86,154.14M238.71,159.87L245.71,166.87M238.71,166.87L245.71,159.87M335.57,169.73L342.57,176.73M335.57,176.73L342.57,169.73M432.43,180.05L439.43,187.05M432.43,187.05L439.43,180.05M529.29,196.79L536.29,203.79M529.29,203.79L536.29,196.79M626.14,213.31L633.14,220.31M626.14,220.31L633.14,213.31M723.00,230.05L730.00,237.05M723.00,237.05L730.00,230.05" stroke="#00a8b0" stroke-width="2.9" fill="none" stroke-linecap="square"/>
<rect x="48.5" y="11.5" width="678" height="366" fill="none" stroke="#262626" stroke-width="1.2"/>
<path d="M48.5,377.5V370.5M48.5,11.5V18.5M145.5,377.5V370.5M145.5,11.5V18.5M242.5,377.5V370.5M242.5,11.5V18.5M339.5,377.5V370.5M339.5,11.5V18.5M435.5,377.5V370.5M435.5,11.5V18.5M532.5,377.5V370.5M532.5,11.5V18.5M629.5,377.5V370.5M726.5,377.5V370.5M48.5,377.5H55.5M726.5,377.5H719.5M48.5,331.5H55.5M726.5,331.5H719.5M48.5,286.5H55.5M726.5,286.5H719.5M48.5,240.5H55.5M726.5,240.5H719.5M48.5,194.5H55.5M726.5,194.5H719.5M48.5,148.5H55.5M726.5,148.5H719.5M48.5,102.5H55.5M48.5,56.5H55.5M48.5,11.5H55.5" stroke="#262626" stroke-width="1.1" fill="none"/>
<text transform="translate(48.5,393) scale(1,1.1)" text-anchor="middle" class="tk">0</text>
<text transform="translate(145.4,393) scale(1,1.1)" text-anchor="middle" class="tk">50</text>
<text transform="translate(242.2,393) scale(1,1.1)" text-anchor="middle" class="tk">100</text>
<text transform="translate(339.1,393) scale(1,1.1)" text-anchor="middle" class="tk">150</text>
<text transform="translate(435.9,393) scale(1,1.1)" text-anchor="middle" class="tk">200</text>
<text transform="translate(532.8,393) scale(1,1.1)" text-anchor="middle" class="tk">250</text>
<text transform="translate(629.6,393) scale(1,1.1)" text-anchor="middle" class="tk">300</text>
<text transform="translate(726.5,393) scale(1,1.1)" text-anchor="middle" class="tk">350</text>
<text transform="translate(44,382.7) scale(1,1.1)" text-anchor="end" class="tk">0</text>
<text transform="translate(44,336.8) scale(1,1.1)" text-anchor="end" class="tk">10</text>
<text transform="translate(44,291.0) scale(1,1.1)" text-anchor="end" class="tk">20</text>
<text transform="translate(44,245.1) scale(1,1.1)" text-anchor="end" class="tk">30</text>
<text transform="translate(44,199.2) scale(1,1.1)" text-anchor="end" class="tk">40</text>
<text transform="translate(44,153.4) scale(1,1.1)" text-anchor="end" class="tk">50</text>
<text transform="translate(44,107.5) scale(1,1.1)" text-anchor="end" class="tk">60</text>
<text transform="translate(44,61.6) scale(1,1.1)" text-anchor="end" class="tk">70</text>
<text transform="translate(44,15.8) scale(1,1.1)" text-anchor="end" class="tk">80</text>
<text transform="translate(387.2,408.6) scale(1,1.08)" text-anchor="middle" class="al">Distance (cm)</text>
<text transform="translate(16.6,194.2) rotate(-90) scale(1,1.08)" text-anchor="middle" class="al">E<tspan font-size="8" dy="2.4">b</tspan><tspan dy="-2.4">/N</tspan><tspan font-size="8" dy="2.4">0</tspan><tspan dy="-2.4"> (dB)</tspan></text>
<rect x="554.5" y="11.5" width="172" height="75" fill="#fff" stroke="#262626" stroke-width="1"/>
<path d="M563,21.9H601" stroke="#dd0000" stroke-width="2.4" fill="none"/>
<text transform="translate(605.5,26.8) scale(1,1.13)" class="lg">Without equalization</text>
<path d="M563,39.9H601" stroke="#0000c8" stroke-width="2.4" fill="none" stroke-dasharray="2.6,2.25"/>
<text transform="translate(605.5,44.8) scale(1,1.13)" class="lg">LMS</text>
<path d="M563,57.9H601" stroke="#006800" stroke-width="2.4" fill="none" stroke-dasharray="7.6,2.3"/>
<text transform="translate(605.5,62.8) scale(1,1.13)" class="lg">NLMS</text>
<path d="M563,75.4H601" stroke="#00a8b0" stroke-width="2.4" fill="none" stroke-dasharray="7.6,2.4,2,3"/>
<text transform="translate(605.5,80.3) scale(1,1.13)" class="lg">QR-RLS</text>
<path d="M69.6,121.4L61.1,135.9" stroke="#000" stroke-width="1.5" fill="none"/><path d="M55.1,146.3L58.2,129.0L61.1,135.9L68.6,135.1Z" fill="#000"/>
<path d="M125.4,264.6L67.2,214.3" stroke="#000" stroke-width="1.5" fill="none"/><path d="M58.1,206.5L74.5,212.7L67.2,214.3L66.7,221.8Z" fill="#000"/>
<path d="M508.0,106.3L702.5,216.6" stroke="#000" stroke-width="1.5" fill="none"/><path d="M712.9,222.5L695.6,219.6L702.5,216.6L701.5,209.1Z" fill="#000"/>
<path d="M477.5,342.8L652.7,298.1" stroke="#000" stroke-width="1.5" fill="none"/><path d="M664.3,295.1L649.8,305.0L652.7,298.1L646.8,293.4Z" fill="#000"/>
</svg>
</body></html>
